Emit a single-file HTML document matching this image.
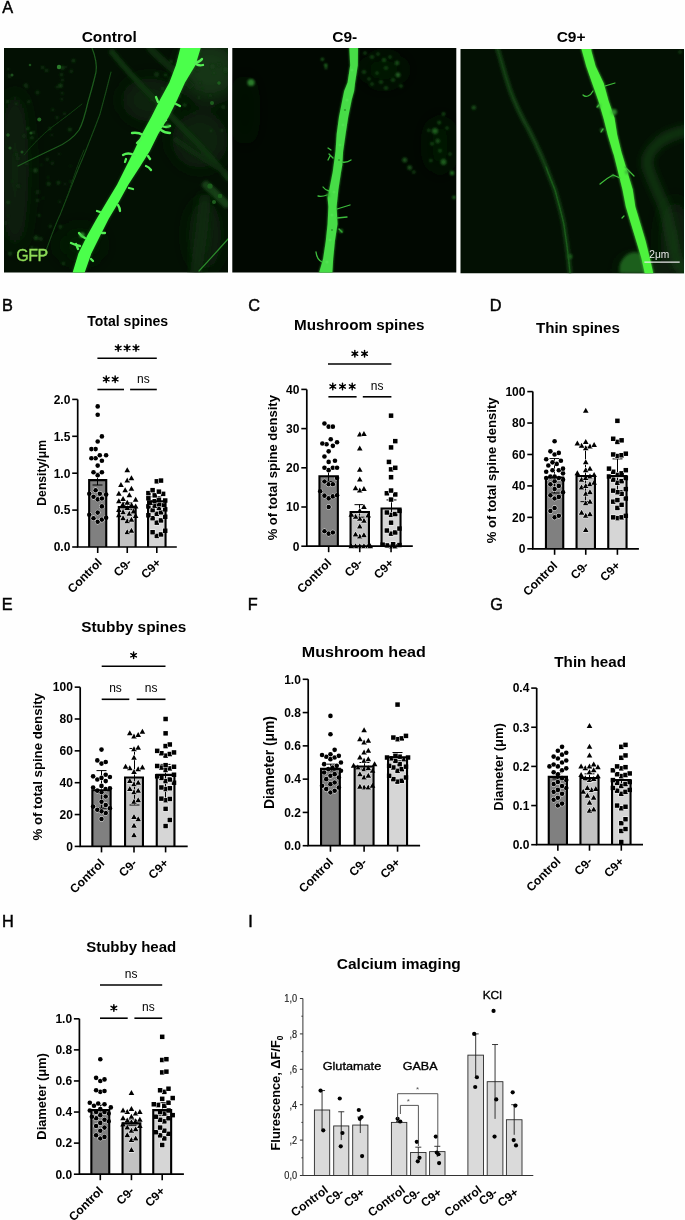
<!DOCTYPE html><html><head><meta charset="utf-8"><style>html,body{margin:0;padding:0;background:#fff;width:685px;height:1220px;overflow:hidden}svg{display:block;will-change:transform}</style></head><body>
<svg width="685" height="1220" viewBox="0 0 685 1220" font-family='"Liberation Sans", sans-serif'>
<rect width="685" height="1220" fill="#fefefe"/>
<defs>
<filter id="b05" x="-20%" y="-20%" width="140%" height="140%"><feGaussianBlur stdDeviation="0.45"/></filter>
<filter id="b1" x="-20%" y="-20%" width="140%" height="140%"><feGaussianBlur stdDeviation="0.8"/></filter>
<filter id="b2" x="-60%" y="-60%" width="220%" height="220%"><feGaussianBlur stdDeviation="1.6"/></filter>
<filter id="b4" x="-100%" y="-100%" width="300%" height="300%"><feGaussianBlur stdDeviation="4"/></filter>
<filter id="b8" x="-150%" y="-150%" width="400%" height="400%"><feGaussianBlur stdDeviation="9"/></filter>
<clipPath id="c1"><rect x="4" y="48" width="224" height="224.5"/></clipPath>
<clipPath id="c2"><rect x="232.3" y="48" width="224" height="224.5"/></clipPath>
<clipPath id="c3"><rect x="460.5" y="49" width="223.5" height="224.3"/></clipPath>
</defs>
<g clip-path="url(#c1)"><rect x="4" y="48" width="224" height="225" fill="#031003"/>
<g filter="url(#b8)"><ellipse cx="210" cy="70" rx="30" ry="30" fill="#123612"/><ellipse cx="200" cy="140" rx="28" ry="28" fill="#0a240a"/><ellipse cx="15" cy="170" rx="14" ry="80" fill="#082008"/><ellipse cx="150" cy="100" rx="28" ry="22" fill="#092209"/><ellipse cx="205" cy="235" rx="16" ry="35" fill="#0a240a"/><ellipse cx="80" cy="245" rx="22" ry="18" fill="#061a06"/></g>
<g filter="url(#b1)"><circle cx="26.7" cy="86.7" r="1.8" fill="#0c2c0c"/><circle cx="61.5" cy="74.8" r="1.7" fill="#103610"/><circle cx="6.6" cy="146.1" r="0.9" fill="#0c2c0c"/><circle cx="42.6" cy="67.4" r="1.7" fill="#103610"/><circle cx="48.1" cy="177.4" r="0.9" fill="#134013"/><circle cx="7.5" cy="101.4" r="1.7" fill="#103610"/><circle cx="24.3" cy="85.3" r="1.0" fill="#0e300e"/><circle cx="43.2" cy="198.2" r="1.0" fill="#103610"/><circle cx="30.1" cy="170.0" r="0.9" fill="#0c2c0c"/><circle cx="47.3" cy="159.2" r="1.7" fill="#0e300e"/><circle cx="36.6" cy="248.9" r="1.4" fill="#103610"/><circle cx="59.6" cy="201.8" r="1.2" fill="#0e300e"/><circle cx="40.8" cy="238.8" r="2.0" fill="#0e300e"/><circle cx="46.6" cy="70.4" r="1.6" fill="#103610"/><circle cx="57.0" cy="86.9" r="1.6" fill="#0c2c0c"/><circle cx="71.3" cy="71.3" r="1.7" fill="#0e300e"/><circle cx="27.8" cy="128.5" r="1.6" fill="#134013"/><circle cx="8.8" cy="74.7" r="1.2" fill="#0c2c0c"/><circle cx="8.2" cy="202.3" r="1.8" fill="#134013"/><circle cx="23.9" cy="136.0" r="1.9" fill="#0c2c0c"/><circle cx="69.8" cy="129.6" r="1.8" fill="#134013"/><circle cx="8.1" cy="216.3" r="1.0" fill="#103610"/><circle cx="31.9" cy="247.5" r="1.6" fill="#103610"/><circle cx="35.4" cy="170.4" r="2.2" fill="#134013"/><circle cx="64.5" cy="113.5" r="1.5" fill="#0e300e"/><circle cx="51.8" cy="134.9" r="1.2" fill="#0c2c0c"/><circle cx="16.3" cy="103.7" r="1.2" fill="#134013"/><circle cx="62.2" cy="93.3" r="1.3" fill="#103610"/><circle cx="33.3" cy="132.5" r="1.7" fill="#103610"/><circle cx="52.3" cy="163.3" r="1.8" fill="#0c2c0c"/><circle cx="36.0" cy="237.9" r="2.3" fill="#134013"/><circle cx="31.9" cy="137.8" r="1.6" fill="#134013"/><circle cx="8.4" cy="69.1" r="1.1" fill="#103610"/><circle cx="11.7" cy="181.2" r="1.0" fill="#103610"/><circle cx="41.6" cy="254.3" r="1.8" fill="#0c2c0c"/><circle cx="65.2" cy="184.0" r="1.0" fill="#0e300e"/><circle cx="70.9" cy="181.5" r="1.6" fill="#0c2c0c"/><circle cx="63.4" cy="263.6" r="1.5" fill="#134013"/><circle cx="25.8" cy="85.3" r="2.0" fill="#0e300e"/><circle cx="37.5" cy="200.3" r="1.6" fill="#103610"/><circle cx="70.6" cy="165.9" r="1.0" fill="#0c2c0c"/><circle cx="57.1" cy="117.6" r="1.8" fill="#0c2c0c"/><circle cx="52.7" cy="109.8" r="1.4" fill="#103610"/><circle cx="28.9" cy="101.8" r="1.7" fill="#0e300e"/><circle cx="48.6" cy="183.8" r="2.1" fill="#103610"/><circle cx="60.4" cy="226.8" r="2.0" fill="#103610"/><circle cx="18.0" cy="158.5" r="2.0" fill="#0c2c0c"/><circle cx="59.3" cy="154.2" r="1.1" fill="#0e300e"/><circle cx="35.3" cy="251.8" r="2.4" fill="#0e300e"/><circle cx="9.6" cy="76.5" r="1.6" fill="#0e300e"/><circle cx="18.3" cy="186.1" r="2.2" fill="#0c2c0c"/><circle cx="37.6" cy="192.1" r="2.1" fill="#0c2c0c"/><circle cx="62.4" cy="80.2" r="1.4" fill="#103610"/><circle cx="37.5" cy="92.5" r="2.1" fill="#0e300e"/><circle cx="10.1" cy="253.7" r="2.0" fill="#134013"/><circle cx="32.1" cy="253.8" r="2.0" fill="#103610"/><circle cx="73.5" cy="60.8" r="1.7" fill="#134013"/><circle cx="60.5" cy="85.7" r="2.1" fill="#134013"/><circle cx="50.0" cy="128.6" r="1.7" fill="#103610"/><circle cx="5.5" cy="222.9" r="2.0" fill="#0c2c0c"/><circle cx="40.9" cy="251.1" r="1.5" fill="#103610"/><circle cx="61.8" cy="99.3" r="1.2" fill="#0e300e"/><circle cx="39.1" cy="215.4" r="1.3" fill="#134013"/><circle cx="62.4" cy="67.8" r="2.0" fill="#134013"/><circle cx="50.4" cy="226.2" r="1.6" fill="#103610"/><circle cx="41.2" cy="164.9" r="0.8" fill="#134013"/><circle cx="58.4" cy="182.8" r="2.0" fill="#103610"/><circle cx="16.1" cy="154.4" r="2.0" fill="#0c2c0c"/><circle cx="26.8" cy="163.9" r="1.7" fill="#0c2c0c"/><circle cx="65.8" cy="66.9" r="1.1" fill="#0c2c0c"/><circle cx="210.2" cy="95.7" r="1.8" fill="#0f330f"/><circle cx="184.6" cy="105.1" r="1.7" fill="#154515"/><circle cx="165.6" cy="74.9" r="1.7" fill="#123a12"/><circle cx="189.6" cy="72.3" r="1.7" fill="#123a12"/><circle cx="222.0" cy="130.3" r="1.2" fill="#123a12"/><circle cx="160.7" cy="60.9" r="1.6" fill="#0f330f"/><circle cx="202.4" cy="88.6" r="1.2" fill="#123a12"/><circle cx="211.1" cy="130.7" r="1.1" fill="#154515"/><circle cx="200.2" cy="83.0" r="1.3" fill="#0f330f"/><circle cx="225.5" cy="69.8" r="2.5" fill="#123a12"/><circle cx="219.0" cy="64.7" r="2.0" fill="#0f330f"/><circle cx="162.6" cy="88.8" r="1.7" fill="#123a12"/><circle cx="182.9" cy="82.1" r="1.0" fill="#123a12"/><circle cx="151.5" cy="99.9" r="1.6" fill="#0f330f"/><circle cx="180.0" cy="96.6" r="1.3" fill="#0f330f"/><circle cx="158.8" cy="132.7" r="1.2" fill="#0f330f"/><circle cx="156.6" cy="74.5" r="2.4" fill="#0f330f"/><circle cx="171.1" cy="61.7" r="1.6" fill="#154515"/><circle cx="213.9" cy="73.3" r="1.1" fill="#154515"/><circle cx="194.5" cy="113.0" r="1.0" fill="#0f330f"/><circle cx="212.4" cy="66.5" r="2.4" fill="#123a12"/><circle cx="223.2" cy="107.1" r="2.2" fill="#0f330f"/><circle cx="197.4" cy="70.0" r="1.3" fill="#0f330f"/><circle cx="185.4" cy="80.5" r="1.8" fill="#123a12"/><circle cx="198.5" cy="53.9" r="2.1" fill="#0f330f"/><circle cx="225.6" cy="73.6" r="1.1" fill="#123a12"/><circle cx="199.0" cy="97.8" r="1.2" fill="#123a12"/><circle cx="189.0" cy="66.0" r="1.4" fill="#0f330f"/><circle cx="227.6" cy="53.3" r="0.8" fill="#154515"/><circle cx="193.0" cy="67.1" r="1.7" fill="#123a12"/></g>
<g fill="none" stroke-linecap="round" filter="url(#b2)"><path d="M112 52 C130 75 150 95 170 115 C190 135 210 155 228 178" stroke="#0f300f" stroke-width="6"/><path d="M176 140 C190 150 205 160 225 172" stroke="#0e2c0e" stroke-width="5"/><path d="M206 185 C214 192 220 198 226 204" stroke="#124012" stroke-width="8"/><path d="M150 48 C160 60 175 70 190 85" stroke="#0e2c0e" stroke-width="7"/></g>
<g fill="none" stroke-linecap="round" filter="url(#b4)"><path d="M205 200 C203 220 200 245 196 272" stroke="#0c2a0c" stroke-width="12"/></g>
<g fill="none" stroke-linecap="round" filter="url(#b05)"><path d="M92 48 C96 58 97 65 96 72 C93 85 90 95 88 102 C85 115 82 125 79 130 C72 140 62 145 55 148 C40 155 30 160 18 166" stroke="#1d5c1d" stroke-width="1.2"/><path d="M111 72 C107 88 103 103 100 114 C96 125 92 135 88 145 C85 153 82 160 79 167 C72 185 66 200 60 215 C55 225 50 240 44 256" stroke="#164a16" stroke-width="1.1"/><path d="M82 104 C72 112 62 120 52 127 C42 135 32 145 24 155" stroke="#123e12" stroke-width="1"/><path d="M84 150 C75 170 70 190 66 200" stroke="#123e12" stroke-width="0.9"/><path d="M228 239 C220 248 212 257 199 271" stroke="#2b8a2b" stroke-width="1.2"/></g>
<g filter="url(#b05)"><circle cx="59" cy="67" r="2.2" fill="#2a7a2a"/><circle cx="39.3" cy="119.5" r="2" fill="#236a23"/><circle cx="12" cy="75" r="1.5" fill="#1a4f1a"/><circle cx="30" cy="65" r="1.3" fill="#1a4f1a"/><circle cx="8" cy="135" r="1.8" fill="#1c521c"/><circle cx="31" cy="133" r="1.6" fill="#1a4f1a"/><circle cx="10" cy="148" r="1.6" fill="#1a4f1a"/><circle cx="22" cy="152" r="1.5" fill="#1a4f1a"/><circle cx="210" cy="186" r="2.6" fill="#1f5f1f"/><circle cx="220" cy="196" r="2.3" fill="#1f5f1f"/><circle cx="214" cy="202" r="2" fill="#1f5f1f"/><circle cx="212" cy="103" r="2" fill="#1f5f1f"/><circle cx="219" cy="83" r="1.8" fill="#1f5f1f"/></g>
<path d="M180.6 47 L176 65 L169.4 82.5 L160 99.7 L151.3 116.9 L142 134 L134 151 L125.8 167.2 L117.2 184.5 L106.8 201.7 L96.5 218.9 L87 236.1 L78.4 253.4 L72.5 273 L84.5 273 L91.3 253.4 L100 236.1 L108.6 218.9 L118.9 201.7 L128.4 184.5 L139.6 167.2 L149.8 151 L158.2 134 L168.6 116.9 L177.2 99.7 L185 82.5 L195.5 65 L201 47Z" fill="#2a8a2a" opacity="0.6" filter="url(#b2)"/>
<path d="M180.6 47 L176 65 L169.4 82.5 L160 99.7 L151.3 116.9 L142 134 L134 151 L125.8 167.2 L117.2 184.5 L106.8 201.7 L96.5 218.9 L87 236.1 L78.4 253.4 L72.5 273 L84.5 273 L91.3 253.4 L100 236.1 L108.6 218.9 L118.9 201.7 L128.4 184.5 L139.6 167.2 L149.8 151 L158.2 134 L168.6 116.9 L177.2 99.7 L185 82.5 L195.5 65 L201 47Z" fill="#4cff4c" filter="url(#b05)"/>
<g fill="none" stroke="#55f055" stroke-width="2.3" stroke-linecap="round" filter="url(#b05)"><path d="M195 63 q5 -1 7 -4"/><path d="M196 64 q3 2 7 1"/><path d="M158 102 l-2 -5"/><path d="M176 104 l4 2"/><path d="M162 126 q4 2 8 0"/><path d="M161 130 q4 3 9 3"/><path d="M163 122 l3 -2"/><path d="M143 135 q-5 -3 -11 -2"/><path d="M141 139 l-4 4"/><path d="M134 155 q-6 -3 -11 0"/><path d="M126 159 l-1 3"/><path d="M148 156 l2 3"/><path d="M146 166 q3 1 5 4"/><path d="M129 188 l4 1"/><path d="M118 205 q2 3 2 6"/><path d="M100 212 l-3 -1"/><path d="M102 233 l3 0"/><path d="M85 238 q-4 -2 -6 -5"/><path d="M80 246 q-5 -1 -9 -3"/><path d="M78 249 l-2 -5"/><path d="M91 259 l2 2"/></g>
<g fill="#3fb83f" opacity="0.8" filter="url(#b1)"><circle cx="82" cy="235" r="2.6"/><circle cx="168" cy="126" r="2"/></g>
<text x="16.2" y="260.8" font-size="16" letter-spacing="-0.4" fill="#8edc58" stroke="#8edc58" stroke-width="0.35">GFP</text>
</g>
<g clip-path="url(#c2)"><rect x="232" y="48" width="225" height="225" fill="#010801"/>
<g filter="url(#b8)"><ellipse cx="384" cy="70" rx="22" ry="16" fill="#061606"/><ellipse cx="440" cy="145" rx="14" ry="28" fill="#061606"/><ellipse cx="245" cy="110" rx="10" ry="35" fill="#051205"/></g>
<g filter="url(#b1)" fill="#1a501a"><circle cx="251" cy="82.5" r="3.6" fill="#2a7a2a"/><circle cx="322.4" cy="59.2" r="1.2" fill="#2c8a2c"/><circle cx="325.8" cy="65.2" r="1.4" fill="#2c8a2c"/><circle cx="326" cy="68" r="1" fill="#2c8a2c"/><circle cx="365" cy="53" r="1.6"/><circle cx="372" cy="57" r="1.8"/><circle cx="378" cy="54" r="1.5"/><circle cx="384" cy="60" r="2"/><circle cx="390" cy="57" r="1.6"/><circle cx="397" cy="63" r="2.2"/><circle cx="386" cy="68" r="1.8"/><circle cx="377" cy="73" r="1.6"/><circle cx="364" cy="72" r="1.8"/><circle cx="398" cy="75" r="2.4" fill="#215f21"/><circle cx="393" cy="80" r="1.8"/><circle cx="381" cy="82" r="1.8"/><circle cx="372" cy="84" r="1.6"/><circle cx="386" cy="88" r="1.8"/><circle cx="401" cy="86" r="1.7"/><circle cx="369" cy="79" r="1.4"/><circle cx="435" cy="131" r="3" fill="#1f5c1f"/><circle cx="443.5" cy="162" r="3" fill="#1f5c1f"/><circle cx="404.7" cy="160" r="2.5"/><circle cx="409.6" cy="167.7" r="2.4"/><circle cx="413.8" cy="172" r="1.6"/><circle cx="430.8" cy="160.6" r="1.5"/><circle cx="439.2" cy="122.6" r="1.8"/><circle cx="443.5" cy="114" r="1.8"/><circle cx="437.8" cy="141" r="2.2"/><circle cx="440" cy="150.8" r="1.8"/><circle cx="452" cy="173" r="2.2" fill="#227022"/><circle cx="454" cy="197.3" r="1.6" fill="#227022"/><circle cx="428.7" cy="130.3" r="1.5"/><circle cx="432" cy="143.7" r="1.7"/><circle cx="447" cy="128" r="1.6"/><circle cx="450" cy="154" r="1.5"/></g>
<path d="M349.1 47 L350 65.2 L347.4 82.5 L344 91 L342.2 99.7 L338.8 116.9 L336.5 134.1 L335.3 151.4 L333.5 165 L332.5 172.2 L329.1 189.5 L327.4 198 L328.2 206.7 L327.4 223.9 L325.6 241.1 L323 258.4 L318.8 273 L332.5 273 L333.4 258.4 L335.1 241.1 L337.7 223.9 L336.8 206.7 L337.7 198 L338.6 189.5 L341.2 172.2 L342.5 165 L343.3 151.4 L345.8 134.1 L348.4 116.9 L351.9 99.7 L354.3 91 L355.3 82.5 L358 65.2 L358.2 47Z" fill="#2a9a2a" filter="url(#b1)"/>
<path d="M349.3 47 L350.2 65.2 L347.6 82.5 L344.2 91 L342.4 99.7 L339 116.9 L336.7 134.1 L335.5 151.4 L333.7 165 L332.7 172.2 L329.3 189.5 L327.6 198 L328.4 206.7 L327.6 223.9 L325.8 241.1 L323.2 258.4 L319 273 L332.3 273 L333.2 258.4 L334.9 241.1 L337.5 223.9 L336.6 206.7 L337.5 198 L338.4 189.5 L341 172.2 L342.3 165 L343.1 151.4 L345.6 134.1 L348.2 116.9 L351.7 99.7 L354.1 91 L355.1 82.5 L357.8 65.2 L358 47Z" fill="#46dc46" filter="url(#b05)"/>
<g fill="#5ae85a" opacity="0.55" filter="url(#b05)"><circle cx="352" cy="70" r="1.5"/><circle cx="347" cy="100" r="1.6"/><circle cx="343" cy="125" r="1.4"/><circle cx="340" cy="145" r="1.5"/><circle cx="334" cy="192" r="1.5"/><circle cx="332" cy="215" r="1.6"/><circle cx="330" cy="240" r="1.5"/><circle cx="327" cy="262" r="1.6"/></g>
<g fill="#1c7a1c" opacity="0.6" filter="url(#b05)"><circle cx="345" cy="110" r="1.1"/><circle cx="339" cy="160" r="1"/><circle cx="332" cy="230" r="1"/></g>
<g fill="none" stroke="#3cbc3c" stroke-width="1.3" stroke-linecap="round" filter="url(#b05)"><path d="M333 158 l-4 -4 M330 156 l-2 4"/><path d="M342 162 q5 1 9 -2"/><path d="M329 191 q-4 -1 -6 -4 M327 195 q-5 2 -9 1"/><path d="M337 209 l13 -4"/><path d="M337 218 l10 -1"/><path d="M339 229 l3 3"/><path d="M322 262 q-5 -2 -6 -10"/><path d="M331 150 l-3 -2"/></g>
<g fill="#2a9a2a" opacity="0.8" filter="url(#b1)"><circle cx="341" cy="231" r="2"/><circle cx="328" cy="195" r="1.8"/></g>
</g>
<g clip-path="url(#c3)"><rect x="460" y="49" width="225" height="225" fill="#031003"/>
<g filter="url(#b8)"><ellipse cx="675" cy="240" rx="14" ry="40" fill="#0a240a"/><ellipse cx="640" cy="270" rx="20" ry="10" fill="#0e300e"/></g>
<g fill="none" stroke-linecap="round"><path d="M497 47 C501 60 505 75 510 90 C516 106 522 118 529 130 C535 142 540 152 546 167 C550 178 553 185 555 190 C559 205 562 215 564 225 C566 240 568 250 570 273" stroke="#134513" stroke-width="4" filter="url(#b2)"/><path d="M546 167 C550 178 553 185 555 190 C559 205 562 215 564 225 C566 240 568 250 570 273" stroke="#1a5a1a" stroke-width="1.3" filter="url(#b05)"/><path d="M686 131 C675 133 665 136 656 145 C648 153 645 160 648 168 C652 180 658 192 664 206 C668 220 671 235 674 250 C676 260 680 268 684 273" stroke="#133f13" stroke-width="8" filter="url(#b4)"/></g>
<g filter="url(#b1)"><circle cx="473.8" cy="107.6" r="2.2" fill="#1a521a"/><circle cx="570" cy="256.6" r="2.5" fill="#1d5a1d"/><circle cx="680" cy="52" r="1.5" fill="#1a4a1a"/></g>
<g filter="url(#b2)"><path d="M620 273 C618 265 622 258 628 254 C634 251 640 252 643 256 L650 273 Z" fill="#1c5e1c"/></g>
<path d="M580.5 47 L581.5 50.7 L585.8 66.2 L591.8 83.5 L597.9 100.7 L603 117.9 L607.3 135.1 L612.5 152.4 L613.4 155 L617.7 172.2 L622 189.5 L625.4 206.7 L630.6 223.9 L635.8 241.1 L641 258.4 L644.4 274 L653.9 274 L650.4 258.4 L646.1 241.1 L641 223.9 L635.8 206.7 L633.2 189.5 L628 172.2 L622.8 155 L622 152.4 L617.7 135.1 L615 117.9 L609 100.7 L604.3 83.5 L596.1 66.2 L591.8 50.7 L591.8 47Z" fill="#38b030" filter="url(#b1)"/>
<path d="M581 47 L582 50.7 L586.3 66.2 L592.3 83.5 L598.4 100.7 L603.5 117.9 L607.8 135.1 L613 152.4 L613.9 155 L618.2 172.2 L622.5 189.5 L625.9 206.7 L631.1 223.9 L636.3 241.1 L641.5 258.4 L644.9 274 L653.4 274 L649.9 258.4 L645.6 241.1 L640.5 223.9 L635.3 206.7 L632.7 189.5 L627.5 172.2 L622.3 155 L621.5 152.4 L617.2 135.1 L614.5 117.9 L608.5 100.7 L603.8 83.5 L595.6 66.2 L591.3 50.7 L591.3 47Z" fill="#4ef23c" filter="url(#b05)"/>
<g fill="none" stroke="#3fbf3a" stroke-width="1.2" stroke-linecap="round" filter="url(#b05)"><path d="M605 86 l10 -3"/><path d="M593 91 q-2 4 -5 5 q-3 1 -5 -1"/><path d="M599 105 l-2 2"/><path d="M603 129 l-2 3"/><path d="M625 167 q4 4 9 9"/><path d="M620 178 l-7 -3 q-6 3 -13 9"/><path d="M624 216 l-2 2"/></g>
<g fill="#3aa83a" opacity="0.75" filter="url(#b1)"><circle cx="614" cy="112" r="3"/><circle cx="599" cy="106" r="2"/><circle cx="602" cy="130" r="1.8"/><circle cx="627" cy="172" r="2.2"/><circle cx="613" cy="176" r="1.6"/></g>
<text x="649.3" y="258.3" font-size="10.2" fill="#e8e8e8">2μm</text>
<path d="M644.4 262.1H679.7" stroke="#e8e8e8" stroke-width="1.2"/>
</g>
<text x="2.2" y="12.9" font-size="16.3" stroke="#000" stroke-width="0.45">A</text>
<text x="109.2" y="42.4" text-anchor="middle" font-size="15.5" font-weight="bold">Control</text>
<text x="344.7" y="42.4" text-anchor="middle" font-size="15.5" font-weight="bold">C9-</text>
<text x="571.1" y="42.4" text-anchor="middle" font-size="15.5" font-weight="bold">C9+</text>
<rect x="89" y="480" width="17.4" height="67" fill="#808080"/>
<rect x="118.7" y="506.94" width="17.1" height="40.06" fill="#c2c2c2"/>
<rect x="147.9" y="501.04" width="17.8" height="45.96" fill="#d6d6d6"/>
<path d="M97.5 485.01V473.2M92.5 473.2H102.5M92.5 485.01H102.5" stroke="#000" stroke-width="1.0" fill="none"/>
<path d="M127.5 509.36V502.72M122.5 502.72H132.5M122.5 509.36H132.5" stroke="#000" stroke-width="1.0" fill="none"/>
<path d="M156.5 503.46V496.82M151.5 496.82H161.5M151.5 503.46H161.5" stroke="#000" stroke-width="1.0" fill="none"/>
<g fill="#000" stroke="#fff" stroke-width="1.0" paint-order="stroke">
<circle cx="97.7" cy="521.7" r="2.3"/>
<circle cx="101.9" cy="519.6" r="2.3"/>
<circle cx="93.5" cy="518.2" r="2.3"/>
<circle cx="106.1" cy="517.8" r="2.3"/>
<circle cx="89.3" cy="514.7" r="2.3"/>
<circle cx="97.7" cy="512.6" r="2.3"/>
<circle cx="101.9" cy="506.4" r="2.3"/>
<circle cx="97.7" cy="499.4" r="2.3"/>
<circle cx="101.9" cy="498.5" r="2.3"/>
<circle cx="93.5" cy="496.8" r="2.3"/>
<circle cx="106.1" cy="494.6" r="2.3"/>
<circle cx="89.3" cy="493.7" r="2.3"/>
<circle cx="99.8" cy="493.7" r="2.3"/>
<circle cx="95.6" cy="490.2" r="2.3"/>
<circle cx="97.7" cy="475.3" r="2.3"/>
<circle cx="101.9" cy="472.2" r="2.3"/>
<circle cx="93.5" cy="472.2" r="2.3"/>
<circle cx="97.7" cy="465.6" r="2.3"/>
<circle cx="101.9" cy="460.7" r="2.3"/>
<circle cx="95.6" cy="458.3" r="2.3"/>
<circle cx="91.4" cy="458.3" r="2.3"/>
<circle cx="106.1" cy="455.3" r="2.3"/>
<circle cx="99.8" cy="455.3" r="2.3"/>
<circle cx="95.6" cy="449.1" r="2.3"/>
<circle cx="91.4" cy="449.1" r="2.3"/>
<circle cx="97.7" cy="441.5" r="2.3"/>
<circle cx="101.9" cy="436.4" r="2.3"/>
<circle cx="97.7" cy="414.7" r="2.3"/>
<circle cx="97.7" cy="406.4" r="2.3"/>
<path d="M127.25 529.24L130.05 534.24L124.45 534.24Z"/>
<path d="M131.45 527.76L134.25 532.76L128.65 532.76Z"/>
<path d="M127.25 518.17L130.05 523.17L124.45 523.17Z"/>
<path d="M131.45 516.69L134.25 521.69L128.65 521.69Z"/>
<path d="M123.05 515.22L125.85 520.22L120.25 520.22Z"/>
<path d="M135.65 513L138.45 518L132.85 518Z"/>
<path d="M118.85 512.27L121.65 517.27L116.05 517.27Z"/>
<path d="M129.35 510.79L132.15 515.79L126.55 515.79Z"/>
<path d="M123.05 509.31L125.85 514.31L120.25 514.31Z"/>
<path d="M133.55 508.58L136.35 513.58L130.75 513.58Z"/>
<path d="M118.85 507.1L121.65 512.1L116.05 512.1Z"/>
<path d="M127.25 504.89L130.05 509.89L124.45 509.89Z"/>
<path d="M135.65 503.41L138.45 508.41L132.85 508.41Z"/>
<path d="M131.45 501.93L134.25 506.93L128.65 506.93Z"/>
<path d="M123.05 501.2L125.85 506.2L120.25 506.2Z"/>
<path d="M127.25 499.72L130.05 504.72L124.45 504.72Z"/>
<path d="M118.85 498.24L121.65 503.24L116.05 503.24Z"/>
<path d="M135.65 496.77L138.45 501.77L132.85 501.77Z"/>
<path d="M123.05 496.03L125.85 501.03L120.25 501.03Z"/>
<path d="M129.35 492.34L132.15 497.34L126.55 497.34Z"/>
<path d="M118.85 490.86L121.65 495.86L116.05 495.86Z"/>
<path d="M125.15 487.17L127.95 492.17L122.35 492.17Z"/>
<path d="M131.45 485.7L134.25 490.7L128.65 490.7Z"/>
<path d="M120.95 482.01L123.75 487.01L118.15 487.01Z"/>
<path d="M127.25 477.58L130.05 482.58L124.45 482.58Z"/>
<path d="M131.45 475.37L134.25 480.37L128.65 480.37Z"/>
<path d="M127.25 467.25L130.05 472.25L124.45 472.25Z"/>
<rect x="154.55" y="533.68" width="4.5" height="4.5"/>
<rect x="158.75" y="532.2" width="4.5" height="4.5"/>
<rect x="150.35" y="529.99" width="4.5" height="4.5"/>
<rect x="162.95" y="528.51" width="4.5" height="4.5"/>
<rect x="154.55" y="520.4" width="4.5" height="4.5"/>
<rect x="158.75" y="518.18" width="4.5" height="4.5"/>
<rect x="150.35" y="515.97" width="4.5" height="4.5"/>
<rect x="162.95" y="514.49" width="4.5" height="4.5"/>
<rect x="146.15" y="513.02" width="4.5" height="4.5"/>
<rect x="154.55" y="511.54" width="4.5" height="4.5"/>
<rect x="158.75" y="510.06" width="4.5" height="4.5"/>
<rect x="150.35" y="507.85" width="4.5" height="4.5"/>
<rect x="162.95" y="507.11" width="4.5" height="4.5"/>
<rect x="156.65" y="505.64" width="4.5" height="4.5"/>
<rect x="146.15" y="504.16" width="4.5" height="4.5"/>
<rect x="152.45" y="503.42" width="4.5" height="4.5"/>
<rect x="160.85" y="502.68" width="4.5" height="4.5"/>
<rect x="156.65" y="501.95" width="4.5" height="4.5"/>
<rect x="148.25" y="500.47" width="4.5" height="4.5"/>
<rect x="152.45" y="498.99" width="4.5" height="4.5"/>
<rect x="162.95" y="498.26" width="4.5" height="4.5"/>
<rect x="156.65" y="497.52" width="4.5" height="4.5"/>
<rect x="146.15" y="496.04" width="4.5" height="4.5"/>
<rect x="152.45" y="493.09" width="4.5" height="4.5"/>
<rect x="160.85" y="491.61" width="4.5" height="4.5"/>
<rect x="146.15" y="490.88" width="4.5" height="4.5"/>
<rect x="156.65" y="489.4" width="4.5" height="4.5"/>
<rect x="150.35" y="487.92" width="4.5" height="4.5"/>
<rect x="154.55" y="479.07" width="4.5" height="4.5"/>
<rect x="158.75" y="478.33" width="4.5" height="4.5"/>
</g>
<path d="M89.15 547V480.15H106.25V547" fill="none" stroke="#000" stroke-width="2.1"/>
<path d="M118.85 547V507.09H135.65V547" fill="none" stroke="#000" stroke-width="2.1"/>
<path d="M148.05 547V501.19H165.55V547" fill="none" stroke="#000" stroke-width="2.1"/>
<path d="M77.7 399.4V547H176.8" fill="none" stroke="#000" stroke-width="1.7"/>
<path d="M72.2 547H77.7" stroke="#000" stroke-width="1.6"/>
<text x="70.38" y="551.3" text-anchor="end" font-size="12" font-weight="bold">0.0</text>
<path d="M72.2 510.1H77.7" stroke="#000" stroke-width="1.6"/>
<text x="70.38" y="514.4" text-anchor="end" font-size="12" font-weight="bold">0.5</text>
<path d="M72.2 473.2H77.7" stroke="#000" stroke-width="1.6"/>
<text x="70.38" y="477.5" text-anchor="end" font-size="12" font-weight="bold">1.0</text>
<path d="M72.2 436.3H77.7" stroke="#000" stroke-width="1.6"/>
<text x="70.38" y="440.6" text-anchor="end" font-size="12" font-weight="bold">1.5</text>
<path d="M72.2 399.4H77.7" stroke="#000" stroke-width="1.6"/>
<text x="70.38" y="403.7" text-anchor="end" font-size="12" font-weight="bold">2.0</text>
<path d="M97.7 547V553" stroke="#000" stroke-width="1.6"/>
<path d="M127.25 547V553" stroke="#000" stroke-width="1.6"/>
<path d="M156.8 547V553" stroke="#000" stroke-width="1.6"/>
<text transform="translate(102.7 563.5) rotate(-45)" text-anchor="end" font-size="12" font-weight="bold">Control</text>
<text transform="translate(132.25 563.5) rotate(-45)" text-anchor="end" font-size="12" font-weight="bold">C9-</text>
<text transform="translate(161.8 563.5) rotate(-45)" text-anchor="end" font-size="12" font-weight="bold">C9+</text>
<text transform="translate(46.4 505.69) rotate(-90)" font-size="12.19" font-weight="bold" textLength="65.74" lengthAdjust="spacingAndGlyphs">Density/μm</text>
<text x="87.16" y="325.8" font-size="14" font-weight="bold" textLength="81.01" lengthAdjust="spacingAndGlyphs">Total spines</text>
<text x="2" y="310.8" font-size="16.3" stroke="#000" stroke-width="0.45">B</text>
<path d="M97.4 358.2H156.8" stroke="#000" stroke-width="1.6"/>
<path d="M118.2 344.65L118.2 351.15M115.39 346.27L121.01 349.52M121.01 346.27L115.39 349.52" stroke="#000" stroke-width="1.45" stroke-linecap="round"/><circle cx="118.2" cy="347.9" r="1.55"/>
<path d="M127.1 344.65L127.1 351.15M124.29 346.27L129.91 349.52M129.91 346.27L124.29 349.52" stroke="#000" stroke-width="1.45" stroke-linecap="round"/><circle cx="127.1" cy="347.9" r="1.55"/>
<path d="M136 344.65L136 351.15M133.19 346.27L138.81 349.52M138.81 346.27L133.19 349.52" stroke="#000" stroke-width="1.45" stroke-linecap="round"/><circle cx="136" cy="347.9" r="1.55"/>
<path d="M97.4 389.5H124" stroke="#000" stroke-width="1.6"/>
<path d="M106.25 375.95L106.25 382.45M103.44 377.57L109.06 380.82M109.06 377.57L103.44 380.82" stroke="#000" stroke-width="1.45" stroke-linecap="round"/><circle cx="106.25" cy="379.2" r="1.55"/>
<path d="M115.15 375.95L115.15 382.45M112.34 377.57L117.96 380.82M117.96 377.57L112.34 380.82" stroke="#000" stroke-width="1.45" stroke-linecap="round"/><circle cx="115.15" cy="379.2" r="1.55"/>
<path d="M130.1 389.5H156.8" stroke="#000" stroke-width="1.6"/>
<text x="143.45" y="382.5" text-anchor="middle" font-size="12">ns</text>
<rect x="319.3" y="476.15" width="18.7" height="70.05" fill="#808080"/>
<rect x="350.4" y="511.82" width="18.7" height="34.38" fill="#c2c2c2"/>
<rect x="381.4" y="508.29" width="19.3" height="37.91" fill="#d6d6d6"/>
<path d="M328.5 481.52V468.98M323.5 468.98H333.5M323.5 481.52H333.5" stroke="#000" stroke-width="1.0" fill="none"/>
<path d="M359.5 517.19V504.65M354.5 504.65H364.5M354.5 517.19H364.5" stroke="#000" stroke-width="1.0" fill="none"/>
<path d="M391.5 514.06V499.94M386.5 499.94H396.5M386.5 514.06H396.5" stroke="#000" stroke-width="1.0" fill="none"/>
<g fill="#000" stroke="#fff" stroke-width="1.0" paint-order="stroke">
<circle cx="328.65" cy="533.66" r="2.3"/>
<circle cx="332.85" cy="532.48" r="2.3"/>
<circle cx="324.45" cy="531.3" r="2.3"/>
<circle cx="328.65" cy="507" r="2.3"/>
<circle cx="328.65" cy="498.38" r="2.3"/>
<circle cx="332.85" cy="496.42" r="2.3"/>
<circle cx="324.45" cy="495.63" r="2.3"/>
<circle cx="337.05" cy="495.24" r="2.3"/>
<circle cx="320.25" cy="491.32" r="2.3"/>
<circle cx="328.65" cy="484.26" r="2.3"/>
<circle cx="332.85" cy="484.26" r="2.3"/>
<circle cx="324.45" cy="481.52" r="2.3"/>
<circle cx="337.05" cy="477.99" r="2.3"/>
<circle cx="328.65" cy="470.15" r="2.3"/>
<circle cx="332.85" cy="467.8" r="2.3"/>
<circle cx="324.45" cy="467.8" r="2.3"/>
<circle cx="337.05" cy="467.8" r="2.3"/>
<circle cx="328.65" cy="461.92" r="2.3"/>
<circle cx="334.95" cy="460.74" r="2.3"/>
<circle cx="324.45" cy="456.43" r="2.3"/>
<circle cx="328.65" cy="451.34" r="2.3"/>
<circle cx="332.85" cy="445.85" r="2.3"/>
<circle cx="326.55" cy="444.28" r="2.3"/>
<circle cx="322.35" cy="443.5" r="2.3"/>
<circle cx="337.05" cy="442.32" r="2.3"/>
<circle cx="330.75" cy="439.18" r="2.3"/>
<circle cx="328.65" cy="426.64" r="2.3"/>
<circle cx="332.85" cy="426.64" r="2.3"/>
<circle cx="324.45" cy="423.5" r="2.3"/>
<path d="M359.75 543.2L362.55 548.2L356.95 548.2Z"/>
<path d="M363.95 543.2L366.75 548.2L361.15 548.2Z"/>
<path d="M355.55 543.2L358.35 548.2L352.75 548.2Z"/>
<path d="M368.15 543.2L370.95 548.2L365.35 548.2Z"/>
<path d="M351.35 543.2L354.15 548.2L348.55 548.2Z"/>
<path d="M370.25 543.2L373.05 548.2L367.45 548.2Z"/>
<path d="M359.75 533.4L362.55 538.4L356.95 538.4Z"/>
<path d="M363.95 532.22L366.75 537.22L361.15 537.22Z"/>
<path d="M355.55 531.44L358.35 536.44L352.75 536.44Z"/>
<path d="M359.75 523.6L362.55 528.6L356.95 528.6Z"/>
<path d="M363.95 517.72L366.75 522.72L361.15 522.72Z"/>
<path d="M359.75 515.76L362.55 520.76L356.95 520.76Z"/>
<path d="M355.55 513.8L358.35 518.8L352.75 518.8Z"/>
<path d="M368.15 512.62L370.95 517.62L365.35 517.62Z"/>
<path d="M351.35 511.84L354.15 516.84L348.55 516.84Z"/>
<path d="M359.75 507.92L362.55 512.92L356.95 512.92Z"/>
<path d="M363.95 504L366.75 509L361.15 509Z"/>
<path d="M359.75 487.54L362.55 492.54L356.95 492.54Z"/>
<path d="M363.95 485.97L366.75 490.97L361.15 490.97Z"/>
<path d="M355.55 485.18L358.35 490.18L352.75 490.18Z"/>
<path d="M359.75 476.56L362.55 481.56L356.95 481.56Z"/>
<path d="M359.75 466.76L362.55 471.76L356.95 471.76Z"/>
<path d="M359.75 445.59L362.55 450.59L356.95 450.59Z"/>
<path d="M359.75 431.48L362.55 436.48L356.95 436.48Z"/>
<path d="M363.95 431.09L366.75 436.09L361.15 436.09Z"/>
<rect x="388.8" y="543.95" width="4.5" height="4.5"/>
<rect x="393" y="543.95" width="4.5" height="4.5"/>
<rect x="384.6" y="543.17" width="4.5" height="4.5"/>
<rect x="397.2" y="542.77" width="4.5" height="4.5"/>
<rect x="380.4" y="542.38" width="4.5" height="4.5"/>
<rect x="390.9" y="541.99" width="4.5" height="4.5"/>
<rect x="388.8" y="531.41" width="4.5" height="4.5"/>
<rect x="393" y="530.23" width="4.5" height="4.5"/>
<rect x="384.6" y="528.27" width="4.5" height="4.5"/>
<rect x="397.2" y="526.31" width="4.5" height="4.5"/>
<rect x="388.8" y="520.43" width="4.5" height="4.5"/>
<rect x="388.8" y="512.59" width="4.5" height="4.5"/>
<rect x="393" y="511.81" width="4.5" height="4.5"/>
<rect x="384.6" y="510.24" width="4.5" height="4.5"/>
<rect x="397.2" y="508.67" width="4.5" height="4.5"/>
<rect x="388.8" y="497.3" width="4.5" height="4.5"/>
<rect x="393" y="492.21" width="4.5" height="4.5"/>
<rect x="384.6" y="491.03" width="4.5" height="4.5"/>
<rect x="388.8" y="488.29" width="4.5" height="4.5"/>
<rect x="388.8" y="474.96" width="4.5" height="4.5"/>
<rect x="388.8" y="467.12" width="4.5" height="4.5"/>
<rect x="393" y="465.55" width="4.5" height="4.5"/>
<rect x="386.7" y="459.67" width="4.5" height="4.5"/>
<rect x="388.8" y="445.17" width="4.5" height="4.5"/>
<rect x="393" y="438.89" width="4.5" height="4.5"/>
<rect x="388.8" y="413.41" width="4.5" height="4.5"/>
</g>
<path d="M319.45 546.2V476.3H337.85V546.2" fill="none" stroke="#000" stroke-width="2.1"/>
<path d="M350.55 546.2V511.97H368.95V546.2" fill="none" stroke="#000" stroke-width="2.1"/>
<path d="M381.55 546.2V508.44H400.55V546.2" fill="none" stroke="#000" stroke-width="2.1"/>
<path d="M306.8 389.4V546.2H412.8" fill="none" stroke="#000" stroke-width="1.7"/>
<path d="M301.3 546.2H306.8" stroke="#000" stroke-width="1.6"/>
<text x="299.48" y="550.5" text-anchor="end" font-size="12" font-weight="bold">0</text>
<path d="M301.3 507H306.8" stroke="#000" stroke-width="1.6"/>
<text x="299.48" y="511.3" text-anchor="end" font-size="12" font-weight="bold">10</text>
<path d="M301.3 467.8H306.8" stroke="#000" stroke-width="1.6"/>
<text x="299.48" y="472.1" text-anchor="end" font-size="12" font-weight="bold">20</text>
<path d="M301.3 428.6H306.8" stroke="#000" stroke-width="1.6"/>
<text x="299.48" y="432.9" text-anchor="end" font-size="12" font-weight="bold">30</text>
<path d="M301.3 389.4H306.8" stroke="#000" stroke-width="1.6"/>
<text x="299.48" y="393.7" text-anchor="end" font-size="12" font-weight="bold">40</text>
<path d="M328.65 546.2V552.2" stroke="#000" stroke-width="1.6"/>
<path d="M359.75 546.2V552.2" stroke="#000" stroke-width="1.6"/>
<path d="M391.05 546.2V552.2" stroke="#000" stroke-width="1.6"/>
<text transform="translate(332.15 563.7) rotate(-45)" text-anchor="end" font-size="12" font-weight="bold">Control</text>
<text transform="translate(363.25 563.7) rotate(-45)" text-anchor="end" font-size="12" font-weight="bold">C9-</text>
<text transform="translate(394.55 563.7) rotate(-45)" text-anchor="end" font-size="12" font-weight="bold">C9+</text>
<text transform="translate(276.5 540.33) rotate(-90)" font-size="13" font-weight="bold" textLength="145.23" lengthAdjust="spacingAndGlyphs">% of total spine density</text>
<text x="294.11" y="330.3" font-size="14.8" font-weight="bold" textLength="130.43" lengthAdjust="spacingAndGlyphs">Mushroom spines</text>
<text x="248.28" y="310.7" font-size="16.3" stroke="#000" stroke-width="0.45">C</text>
<path d="M328 364H391.4" stroke="#000" stroke-width="1.6"/>
<path d="M354.85 350.45L354.85 356.95M352.04 352.07L357.66 355.32M357.66 352.07L352.04 355.32" stroke="#000" stroke-width="1.45" stroke-linecap="round"/><circle cx="354.85" cy="353.7" r="1.55"/>
<path d="M364.55 350.45L364.55 356.95M361.74 352.07L367.36 355.32M367.36 352.07L361.74 355.32" stroke="#000" stroke-width="1.45" stroke-linecap="round"/><circle cx="364.55" cy="353.7" r="1.55"/>
<path d="M328.4 396.8H356.6" stroke="#000" stroke-width="1.6"/>
<path d="M332.8 383.25L332.8 389.75M329.99 384.88L335.61 388.12M335.61 384.88L329.99 388.12" stroke="#000" stroke-width="1.45" stroke-linecap="round"/><circle cx="332.8" cy="386.5" r="1.55"/>
<path d="M342.5 383.25L342.5 389.75M339.69 384.88L345.31 388.12M345.31 384.88L339.69 388.12" stroke="#000" stroke-width="1.45" stroke-linecap="round"/><circle cx="342.5" cy="386.5" r="1.55"/>
<path d="M352.2 383.25L352.2 389.75M349.39 384.88L355.01 388.12M355.01 384.88L349.39 388.12" stroke="#000" stroke-width="1.45" stroke-linecap="round"/><circle cx="352.2" cy="386.5" r="1.55"/>
<path d="M362.8 396.8H391.4" stroke="#000" stroke-width="1.6"/>
<text x="377.1" y="389.8" text-anchor="middle" font-size="12">ns</text>
<rect x="545.8" y="477.39" width="17.6" height="71.41" fill="#808080"/>
<rect x="576.4" y="475.82" width="18.7" height="72.98" fill="#c2c2c2"/>
<rect x="608.1" y="475.82" width="18.6" height="72.98" fill="#d6d6d6"/>
<path d="M554.5 492.99V458.57M549.5 458.57H559.5M549.5 492.99H559.5" stroke="#000" stroke-width="1.0" fill="none"/>
<path d="M585.5 501.64V447.25M580.5 447.25H590.5M580.5 501.64H590.5" stroke="#000" stroke-width="1.0" fill="none"/>
<path d="M617.5 490.64V458.88M612.5 458.88H622.5M612.5 490.64H622.5" stroke="#000" stroke-width="1.0" fill="none"/>
<g fill="#000" stroke="#fff" stroke-width="1.0" paint-order="stroke">
<circle cx="554.6" cy="517.36" r="2.3"/>
<circle cx="558.8" cy="515.79" r="2.3"/>
<circle cx="550.4" cy="511.07" r="2.3"/>
<circle cx="554.6" cy="507.93" r="2.3"/>
<circle cx="554.6" cy="498.5" r="2.3"/>
<circle cx="558.8" cy="496.92" r="2.3"/>
<circle cx="550.4" cy="495.35" r="2.3"/>
<circle cx="563" cy="492.21" r="2.3"/>
<circle cx="554.6" cy="489.06" r="2.3"/>
<circle cx="558.8" cy="485.92" r="2.3"/>
<circle cx="550.4" cy="484.35" r="2.3"/>
<circle cx="554.6" cy="481.2" r="2.3"/>
<circle cx="563" cy="479.63" r="2.3"/>
<circle cx="558.8" cy="478.06" r="2.3"/>
<circle cx="546.2" cy="478.06" r="2.3"/>
<circle cx="550.4" cy="476.49" r="2.3"/>
<circle cx="554.6" cy="476.49" r="2.3"/>
<circle cx="563" cy="473.34" r="2.3"/>
<circle cx="546.2" cy="471.77" r="2.3"/>
<circle cx="558.8" cy="470.2" r="2.3"/>
<circle cx="552.5" cy="470.2" r="2.3"/>
<circle cx="563" cy="468.63" r="2.3"/>
<circle cx="548.3" cy="465.48" r="2.3"/>
<circle cx="556.7" cy="463.91" r="2.3"/>
<circle cx="552.5" cy="462.34" r="2.3"/>
<circle cx="560.9" cy="460.77" r="2.3"/>
<circle cx="546.2" cy="459.2" r="2.3"/>
<circle cx="554.6" cy="454.48" r="2.3"/>
<circle cx="558.8" cy="452.91" r="2.3"/>
<circle cx="550.4" cy="451.34" r="2.3"/>
<circle cx="554.6" cy="441.28" r="2.3"/>
<path d="M585.75 526.94L588.55 531.94L582.95 531.94Z"/>
<path d="M585.75 512.79L588.55 517.79L582.95 517.79Z"/>
<path d="M589.95 511.22L592.75 516.22L587.15 516.22Z"/>
<path d="M581.55 509.64L584.35 514.64L578.75 514.64Z"/>
<path d="M585.75 500.21L588.55 505.21L582.95 505.21Z"/>
<path d="M589.95 498.64L592.75 503.64L587.15 503.64Z"/>
<path d="M585.75 490.78L588.55 495.78L582.95 495.78Z"/>
<path d="M589.95 489.21L592.75 494.21L587.15 494.21Z"/>
<path d="M581.55 484.49L584.35 489.49L578.75 489.49Z"/>
<path d="M585.75 482.92L588.55 487.92L582.95 487.92Z"/>
<path d="M589.95 481.35L592.75 486.35L587.15 486.35Z"/>
<path d="M594.15 479.78L596.95 484.78L591.35 484.78Z"/>
<path d="M581.55 476.63L584.35 481.63L578.75 481.63Z"/>
<path d="M585.75 475.06L588.55 480.06L582.95 480.06Z"/>
<path d="M589.95 473.49L592.75 478.49L587.15 478.49Z"/>
<path d="M594.15 471.92L596.95 476.92L591.35 476.92Z"/>
<path d="M577.35 470.34L580.15 475.34L574.55 475.34Z"/>
<path d="M585.75 467.2L588.55 472.2L582.95 472.2Z"/>
<path d="M589.95 465.63L592.75 470.63L587.15 470.63Z"/>
<path d="M585.75 459.34L588.55 464.34L582.95 464.34Z"/>
<path d="M585.75 445.19L588.55 450.19L582.95 450.19Z"/>
<path d="M589.95 443.62L592.75 448.62L587.15 448.62Z"/>
<path d="M581.55 442.83L584.35 447.83L578.75 447.83Z"/>
<path d="M594.15 442.05L596.95 447.05L591.35 447.05Z"/>
<path d="M577.35 440.48L580.15 445.48L574.55 445.48Z"/>
<path d="M585.75 438.9L588.55 443.9L582.95 443.9Z"/>
<path d="M585.75 407.78L588.55 412.78L582.95 412.78Z"/>
<rect x="615.15" y="515.9" width="4.5" height="4.5"/>
<rect x="619.35" y="515.11" width="4.5" height="4.5"/>
<rect x="610.95" y="515.11" width="4.5" height="4.5"/>
<rect x="623.55" y="513.54" width="4.5" height="4.5"/>
<rect x="615.15" y="505.68" width="4.5" height="4.5"/>
<rect x="619.35" y="502.53" width="4.5" height="4.5"/>
<rect x="610.95" y="499.39" width="4.5" height="4.5"/>
<rect x="615.15" y="497.82" width="4.5" height="4.5"/>
<rect x="623.55" y="496.25" width="4.5" height="4.5"/>
<rect x="619.35" y="491.53" width="4.5" height="4.5"/>
<rect x="615.15" y="489.96" width="4.5" height="4.5"/>
<rect x="610.95" y="488.39" width="4.5" height="4.5"/>
<rect x="623.55" y="486.81" width="4.5" height="4.5"/>
<rect x="615.15" y="480.53" width="4.5" height="4.5"/>
<rect x="619.35" y="478.95" width="4.5" height="4.5"/>
<rect x="610.95" y="477.38" width="4.5" height="4.5"/>
<rect x="623.55" y="475.81" width="4.5" height="4.5"/>
<rect x="606.75" y="474.24" width="4.5" height="4.5"/>
<rect x="615.15" y="472.67" width="4.5" height="4.5"/>
<rect x="619.35" y="471.09" width="4.5" height="4.5"/>
<rect x="610.95" y="469.52" width="4.5" height="4.5"/>
<rect x="623.55" y="467.95" width="4.5" height="4.5"/>
<rect x="606.75" y="466.38" width="4.5" height="4.5"/>
<rect x="615.15" y="453.8" width="4.5" height="4.5"/>
<rect x="619.35" y="453.02" width="4.5" height="4.5"/>
<rect x="610.95" y="452.23" width="4.5" height="4.5"/>
<rect x="623.55" y="451.44" width="4.5" height="4.5"/>
<rect x="615.15" y="439.65" width="4.5" height="4.5"/>
<rect x="619.35" y="438.08" width="4.5" height="4.5"/>
<rect x="610.95" y="436.51" width="4.5" height="4.5"/>
<rect x="615.15" y="418.59" width="4.5" height="4.5"/>
</g>
<path d="M545.95 548.8V477.54H563.25V548.8" fill="none" stroke="#000" stroke-width="2.1"/>
<path d="M576.55 548.8V475.97H594.95V548.8" fill="none" stroke="#000" stroke-width="2.1"/>
<path d="M608.25 548.8V475.97H626.55V548.8" fill="none" stroke="#000" stroke-width="2.1"/>
<path d="M532.8 391.6V548.8H638.9" fill="none" stroke="#000" stroke-width="1.7"/>
<path d="M527.3 548.8H532.8" stroke="#000" stroke-width="1.6"/>
<text x="525.48" y="553.1" text-anchor="end" font-size="12" font-weight="bold">0</text>
<path d="M527.3 517.36H532.8" stroke="#000" stroke-width="1.6"/>
<text x="525.48" y="521.66" text-anchor="end" font-size="12" font-weight="bold">20</text>
<path d="M527.3 485.92H532.8" stroke="#000" stroke-width="1.6"/>
<text x="525.48" y="490.22" text-anchor="end" font-size="12" font-weight="bold">40</text>
<path d="M527.3 454.48H532.8" stroke="#000" stroke-width="1.6"/>
<text x="525.48" y="458.78" text-anchor="end" font-size="12" font-weight="bold">60</text>
<path d="M527.3 423.04H532.8" stroke="#000" stroke-width="1.6"/>
<text x="525.48" y="427.34" text-anchor="end" font-size="12" font-weight="bold">80</text>
<path d="M527.3 391.6H532.8" stroke="#000" stroke-width="1.6"/>
<text x="525.48" y="395.9" text-anchor="end" font-size="12" font-weight="bold">100</text>
<path d="M554.6 548.8V554.8" stroke="#000" stroke-width="1.6"/>
<path d="M585.75 548.8V554.8" stroke="#000" stroke-width="1.6"/>
<path d="M617.4 548.8V554.8" stroke="#000" stroke-width="1.6"/>
<text transform="translate(558.1 566.3) rotate(-45)" text-anchor="end" font-size="12" font-weight="bold">Control</text>
<text transform="translate(589.25 566.3) rotate(-45)" text-anchor="end" font-size="12" font-weight="bold">C9-</text>
<text transform="translate(620.9 566.3) rotate(-45)" text-anchor="end" font-size="12" font-weight="bold">C9+</text>
<text transform="translate(495.8 543.33) rotate(-90)" font-size="13.07" font-weight="bold" textLength="145.93" lengthAdjust="spacingAndGlyphs">% of total spine density</text>
<text x="535.95" y="333.4" font-size="14.2" font-weight="bold" textLength="83.97" lengthAdjust="spacingAndGlyphs">Thin spines</text>
<text x="489.8" y="310.9" font-size="16.3" stroke="#000" stroke-width="0.45">D</text>
<rect x="92.2" y="790.13" width="18.6" height="56.27" fill="#808080"/>
<rect x="124.9" y="777.39" width="18.2" height="69.01" fill="#c2c2c2"/>
<rect x="156.6" y="774.68" width="18" height="71.72" fill="#d6d6d6"/>
<path d="M101.5 808.18V770.6M96.5 770.6H106.5M96.5 808.18H106.5" stroke="#000" stroke-width="1.0" fill="none"/>
<path d="M134.5 805V748.46M129.5 748.46H139.5M129.5 805H139.5" stroke="#000" stroke-width="1.0" fill="none"/>
<path d="M165.5 798.94V764.39M160.5 764.39H170.5M160.5 798.94H170.5" stroke="#000" stroke-width="1.0" fill="none"/>
<g fill="#000" stroke="#fff" stroke-width="1.0" paint-order="stroke">
<circle cx="101.5" cy="819.01" r="2.3"/>
<circle cx="105.7" cy="812.96" r="2.3"/>
<circle cx="101.5" cy="811.37" r="2.3"/>
<circle cx="97.3" cy="809.77" r="2.3"/>
<circle cx="109.9" cy="808.18" r="2.3"/>
<circle cx="93.1" cy="806.59" r="2.3"/>
<circle cx="105.7" cy="805" r="2.3"/>
<circle cx="101.5" cy="801.81" r="2.3"/>
<circle cx="105.7" cy="796.55" r="2.3"/>
<circle cx="101.5" cy="792.25" r="2.3"/>
<circle cx="97.3" cy="790.66" r="2.3"/>
<circle cx="105.7" cy="789.07" r="2.3"/>
<circle cx="109.9" cy="788.27" r="2.3"/>
<circle cx="93.1" cy="787.48" r="2.3"/>
<circle cx="101.5" cy="785.88" r="2.3"/>
<circle cx="105.7" cy="781.11" r="2.3"/>
<circle cx="97.3" cy="779.51" r="2.3"/>
<circle cx="101.5" cy="777.92" r="2.3"/>
<circle cx="109.9" cy="776.97" r="2.3"/>
<circle cx="93.1" cy="776.33" r="2.3"/>
<circle cx="105.7" cy="774.74" r="2.3"/>
<circle cx="101.5" cy="763.59" r="2.3"/>
<circle cx="105.7" cy="762" r="2.3"/>
<circle cx="97.3" cy="760.4" r="2.3"/>
<circle cx="101.5" cy="749.58" r="2.3"/>
<path d="M134 832.25L136.8 837.25L131.2 837.25Z"/>
<path d="M134 822.7L136.8 827.7L131.2 827.7Z"/>
<path d="M138.2 816.33L141 821.33L135.4 821.33Z"/>
<path d="M134 813.94L136.8 818.94L131.2 818.94Z"/>
<path d="M134 798.81L136.8 803.81L131.2 803.81Z"/>
<path d="M138.2 797.22L141 802.22L135.4 802.22Z"/>
<path d="M134 789.25L136.8 794.25L131.2 794.25Z"/>
<path d="M138.2 787.66L141 792.66L135.4 792.66Z"/>
<path d="M129.8 786.07L132.6 791.07L127 791.07Z"/>
<path d="M134 781.29L136.8 786.29L131.2 786.29Z"/>
<path d="M138.2 779.7L141 784.7L135.4 784.7Z"/>
<path d="M129.8 778.11L132.6 783.11L127 783.11Z"/>
<path d="M134 769.03L136.8 774.03L131.2 774.03Z"/>
<path d="M138.2 766.16L141 771.16L135.4 771.16Z"/>
<path d="M129.8 765.37L132.6 770.37L127 770.37Z"/>
<path d="M142.4 764.57L145.2 769.57L139.6 769.57Z"/>
<path d="M125.6 763.77L128.4 768.77L122.8 768.77Z"/>
<path d="M134 754.7L136.8 759.7L131.2 759.7Z"/>
<path d="M134 746.26L136.8 751.26L131.2 751.26Z"/>
<path d="M138.2 744.66L141 749.66L135.4 749.66Z"/>
<path d="M134 733.52L136.8 738.52L131.2 738.52Z"/>
<path d="M138.2 731.92L141 736.92L135.4 736.92Z"/>
<path d="M129.8 730.33L132.6 735.33L127 735.33Z"/>
<path d="M142.4 728.74L145.2 733.74L139.6 733.74Z"/>
<rect x="163.35" y="823.77" width="4.5" height="4.5"/>
<rect x="167.55" y="817.71" width="4.5" height="4.5"/>
<rect x="163.35" y="806.57" width="4.5" height="4.5"/>
<rect x="163.35" y="797.97" width="4.5" height="4.5"/>
<rect x="167.55" y="796.69" width="4.5" height="4.5"/>
<rect x="159.15" y="796.38" width="4.5" height="4.5"/>
<rect x="163.35" y="786.82" width="4.5" height="4.5"/>
<rect x="167.55" y="786.02" width="4.5" height="4.5"/>
<rect x="159.15" y="785.23" width="4.5" height="4.5"/>
<rect x="171.75" y="780.45" width="4.5" height="4.5"/>
<rect x="163.35" y="778.86" width="4.5" height="4.5"/>
<rect x="167.55" y="777.26" width="4.5" height="4.5"/>
<rect x="159.15" y="775.67" width="4.5" height="4.5"/>
<rect x="154.95" y="774.08" width="4.5" height="4.5"/>
<rect x="171.75" y="772.49" width="4.5" height="4.5"/>
<rect x="163.35" y="767.71" width="4.5" height="4.5"/>
<rect x="167.55" y="766.12" width="4.5" height="4.5"/>
<rect x="159.15" y="765.32" width="4.5" height="4.5"/>
<rect x="171.75" y="764.52" width="4.5" height="4.5"/>
<rect x="154.95" y="763.73" width="4.5" height="4.5"/>
<rect x="163.35" y="762.93" width="4.5" height="4.5"/>
<rect x="163.35" y="753.38" width="4.5" height="4.5"/>
<rect x="167.55" y="751.78" width="4.5" height="4.5"/>
<rect x="159.15" y="750.99" width="4.5" height="4.5"/>
<rect x="171.75" y="750.19" width="4.5" height="4.5"/>
<rect x="154.95" y="748.6" width="4.5" height="4.5"/>
<rect x="163.35" y="743.82" width="4.5" height="4.5"/>
<rect x="167.55" y="742.23" width="4.5" height="4.5"/>
<rect x="163.35" y="731.08" width="4.5" height="4.5"/>
<rect x="163.35" y="716.75" width="4.5" height="4.5"/>
</g>
<path d="M92.35 846.4V790.28H110.65V846.4" fill="none" stroke="#000" stroke-width="2.1"/>
<path d="M125.05 846.4V777.54H142.95V846.4" fill="none" stroke="#000" stroke-width="2.1"/>
<path d="M156.75 846.4V774.83H174.45V846.4" fill="none" stroke="#000" stroke-width="2.1"/>
<path d="M80.2 687.15V846.4H187.7" fill="none" stroke="#000" stroke-width="1.7"/>
<path d="M74.7 846.4H80.2" stroke="#000" stroke-width="1.6"/>
<text x="72.88" y="850.7" text-anchor="end" font-size="12" font-weight="bold">0</text>
<path d="M74.7 814.55H80.2" stroke="#000" stroke-width="1.6"/>
<text x="72.88" y="818.85" text-anchor="end" font-size="12" font-weight="bold">20</text>
<path d="M74.7 782.7H80.2" stroke="#000" stroke-width="1.6"/>
<text x="72.88" y="787" text-anchor="end" font-size="12" font-weight="bold">40</text>
<path d="M74.7 750.85H80.2" stroke="#000" stroke-width="1.6"/>
<text x="72.88" y="755.15" text-anchor="end" font-size="12" font-weight="bold">60</text>
<path d="M74.7 719H80.2" stroke="#000" stroke-width="1.6"/>
<text x="72.88" y="723.3" text-anchor="end" font-size="12" font-weight="bold">80</text>
<path d="M74.7 687.15H80.2" stroke="#000" stroke-width="1.6"/>
<text x="72.88" y="691.45" text-anchor="end" font-size="12" font-weight="bold">100</text>
<path d="M101.5 846.4V852.4" stroke="#000" stroke-width="1.6"/>
<path d="M134 846.4V852.4" stroke="#000" stroke-width="1.6"/>
<path d="M165.6 846.4V852.4" stroke="#000" stroke-width="1.6"/>
<text transform="translate(105 863.9) rotate(-45)" text-anchor="end" font-size="12" font-weight="bold">Control</text>
<text transform="translate(137.5 863.9) rotate(-45)" text-anchor="end" font-size="12" font-weight="bold">C9-</text>
<text transform="translate(169.1 863.9) rotate(-45)" text-anchor="end" font-size="12" font-weight="bold">C9+</text>
<text transform="translate(41.8 840.53) rotate(-90)" font-size="13.2" font-weight="bold" textLength="147.44" lengthAdjust="spacingAndGlyphs">% of total spine density</text>
<text x="81.24" y="631.6" font-size="14.4" font-weight="bold" textLength="105.07" lengthAdjust="spacingAndGlyphs">Stubby spines</text>
<text x="1.8" y="610.2" font-size="16.3" stroke="#000" stroke-width="0.45">E</text>
<path d="M101.7 666.2H165.5" stroke="#000" stroke-width="1.6"/>
<path d="M133.6 652.05L133.6 658.55M130.79 653.68L136.41 656.93M136.41 653.68L130.79 656.93" stroke="#000" stroke-width="1.45" stroke-linecap="round"/><circle cx="133.6" cy="655.3" r="1.55"/>
<path d="M101.7 699.3H129.3" stroke="#000" stroke-width="1.6"/>
<text x="115.5" y="692.3" text-anchor="middle" font-size="12">ns</text>
<path d="M136.7 699.3H165.5" stroke="#000" stroke-width="1.6"/>
<text x="151.1" y="692.3" text-anchor="middle" font-size="12">ns</text>
<rect x="320.9" y="768.72" width="19.1" height="76.98" fill="#808080"/>
<rect x="354.5" y="766.4" width="19.2" height="79.3" fill="#c2c2c2"/>
<rect x="387.9" y="757.08" width="19.3" height="88.62" fill="#d6d6d6"/>
<path d="M330.5 770.82V764.16M325.5 764.16H335.5M325.5 770.82H335.5" stroke="#000" stroke-width="1.0" fill="none"/>
<path d="M364.5 769.16V762.5M359.5 762.5H369.5M359.5 769.16H369.5" stroke="#000" stroke-width="1.0" fill="none"/>
<path d="M397.5 760.84V752.52M392.5 752.52H402.5M392.5 760.84H402.5" stroke="#000" stroke-width="1.0" fill="none"/>
<g fill="#000" stroke="#fff" stroke-width="1.0" paint-order="stroke">
<circle cx="330.45" cy="792.45" r="2.3"/>
<circle cx="334.65" cy="790.79" r="2.3"/>
<circle cx="326.25" cy="789.12" r="2.3"/>
<circle cx="338.85" cy="787.46" r="2.3"/>
<circle cx="322.05" cy="785.8" r="2.3"/>
<circle cx="330.45" cy="784.13" r="2.3"/>
<circle cx="334.65" cy="782.47" r="2.3"/>
<circle cx="326.25" cy="779.14" r="2.3"/>
<circle cx="338.85" cy="777.48" r="2.3"/>
<circle cx="330.45" cy="775.81" r="2.3"/>
<circle cx="334.65" cy="774.15" r="2.3"/>
<circle cx="324.15" cy="772.48" r="2.3"/>
<circle cx="340.95" cy="770.82" r="2.3"/>
<circle cx="328.35" cy="769.16" r="2.3"/>
<circle cx="332.55" cy="767.49" r="2.3"/>
<circle cx="336.75" cy="765.83" r="2.3"/>
<circle cx="324.15" cy="764.16" r="2.3"/>
<circle cx="340.95" cy="762.5" r="2.3"/>
<circle cx="330.45" cy="759.17" r="2.3"/>
<circle cx="334.65" cy="757.51" r="2.3"/>
<circle cx="326.25" cy="756.68" r="2.3"/>
<circle cx="338.85" cy="755.84" r="2.3"/>
<circle cx="322.05" cy="755.01" r="2.3"/>
<circle cx="330.45" cy="754.18" r="2.3"/>
<circle cx="334.65" cy="749.85" r="2.3"/>
<circle cx="330.45" cy="734.21" r="2.3"/>
<circle cx="330.45" cy="715.91" r="2.3"/>
<path d="M364.1 784.46L366.9 789.46L361.3 789.46Z"/>
<path d="M368.3 784.46L371.1 789.46L365.5 789.46Z"/>
<path d="M359.9 783.63L362.7 788.63L357.1 788.63Z"/>
<path d="M372.5 782.8L375.3 787.8L369.7 787.8Z"/>
<path d="M364.1 774.48L366.9 779.48L361.3 779.48Z"/>
<path d="M368.3 772.81L371.1 777.81L365.5 777.81Z"/>
<path d="M359.9 771.15L362.7 776.15L357.1 776.15Z"/>
<path d="M372.5 767.82L375.3 772.82L369.7 772.82Z"/>
<path d="M364.1 766.16L366.9 771.16L361.3 771.16Z"/>
<path d="M368.3 765.32L371.1 770.32L365.5 770.32Z"/>
<path d="M357.8 764.49L360.6 769.49L355 769.49Z"/>
<path d="M353.6 762.83L356.4 767.83L350.8 767.83Z"/>
<path d="M374.6 761.16L377.4 766.16L371.8 766.16Z"/>
<path d="M364.1 757.84L366.9 762.84L361.3 762.84Z"/>
<path d="M368.3 756.17L371.1 761.17L365.5 761.17Z"/>
<path d="M359.9 754.51L362.7 759.51L357.1 759.51Z"/>
<path d="M364.1 749.52L366.9 754.52L361.3 754.52Z"/>
<path d="M368.3 747.85L371.1 752.85L365.5 752.85Z"/>
<path d="M364.1 739.53L366.9 744.53L361.3 744.53Z"/>
<path d="M368.3 737.87L371.1 742.87L365.5 742.87Z"/>
<path d="M359.9 736.2L362.7 741.2L357.1 741.2Z"/>
<path d="M364.1 727.22L366.9 732.22L361.3 732.22Z"/>
<rect x="395.3" y="779.39" width="4.5" height="4.5"/>
<rect x="399.5" y="778.55" width="4.5" height="4.5"/>
<rect x="391.1" y="776.89" width="4.5" height="4.5"/>
<rect x="403.7" y="775.23" width="4.5" height="4.5"/>
<rect x="386.9" y="773.56" width="4.5" height="4.5"/>
<rect x="395.3" y="768.57" width="4.5" height="4.5"/>
<rect x="399.5" y="766.91" width="4.5" height="4.5"/>
<rect x="391.1" y="765.24" width="4.5" height="4.5"/>
<rect x="403.7" y="764.41" width="4.5" height="4.5"/>
<rect x="386.9" y="763.58" width="4.5" height="4.5"/>
<rect x="397.4" y="761.91" width="4.5" height="4.5"/>
<rect x="393.2" y="758.59" width="4.5" height="4.5"/>
<rect x="401.6" y="756.92" width="4.5" height="4.5"/>
<rect x="389" y="756.09" width="4.5" height="4.5"/>
<rect x="405.8" y="755.26" width="4.5" height="4.5"/>
<rect x="384.8" y="755.26" width="4.5" height="4.5"/>
<rect x="397.4" y="754.43" width="4.5" height="4.5"/>
<rect x="393.2" y="753.59" width="4.5" height="4.5"/>
<rect x="395.3" y="736.95" width="4.5" height="4.5"/>
<rect x="399.5" y="736.12" width="4.5" height="4.5"/>
<rect x="391.1" y="735.29" width="4.5" height="4.5"/>
<rect x="403.7" y="733.63" width="4.5" height="4.5"/>
<rect x="395.3" y="702.34" width="4.5" height="4.5"/>
</g>
<path d="M321.05 845.7V768.87H339.85V845.7" fill="none" stroke="#000" stroke-width="2.1"/>
<path d="M354.65 845.7V766.55H373.55V845.7" fill="none" stroke="#000" stroke-width="2.1"/>
<path d="M388.05 845.7V757.23H407.05V845.7" fill="none" stroke="#000" stroke-width="2.1"/>
<path d="M308.2 679.3V845.7H420.1" fill="none" stroke="#000" stroke-width="1.7"/>
<path d="M302.7 845.7H308.2" stroke="#000" stroke-width="1.6"/>
<text x="300.88" y="850" text-anchor="end" font-size="12" font-weight="bold">0.0</text>
<path d="M302.7 812.42H308.2" stroke="#000" stroke-width="1.6"/>
<text x="300.88" y="816.72" text-anchor="end" font-size="12" font-weight="bold">0.2</text>
<path d="M302.7 779.14H308.2" stroke="#000" stroke-width="1.6"/>
<text x="300.88" y="783.44" text-anchor="end" font-size="12" font-weight="bold">0.4</text>
<path d="M302.7 745.86H308.2" stroke="#000" stroke-width="1.6"/>
<text x="300.88" y="750.16" text-anchor="end" font-size="12" font-weight="bold">0.6</text>
<path d="M302.7 712.58H308.2" stroke="#000" stroke-width="1.6"/>
<text x="300.88" y="716.88" text-anchor="end" font-size="12" font-weight="bold">0.8</text>
<path d="M302.7 679.3H308.2" stroke="#000" stroke-width="1.6"/>
<text x="300.88" y="683.6" text-anchor="end" font-size="12" font-weight="bold">1.0</text>
<path d="M330.45 845.7V851.7" stroke="#000" stroke-width="1.6"/>
<path d="M364.1 845.7V851.7" stroke="#000" stroke-width="1.6"/>
<path d="M397.55 845.7V851.7" stroke="#000" stroke-width="1.6"/>
<text transform="translate(333.95 863.2) rotate(-45)" text-anchor="end" font-size="12" font-weight="bold">Control</text>
<text transform="translate(367.6 863.2) rotate(-45)" text-anchor="end" font-size="12" font-weight="bold">C9-</text>
<text transform="translate(401.05 863.2) rotate(-45)" text-anchor="end" font-size="12" font-weight="bold">C9+</text>
<text transform="translate(274.3 809.1) rotate(-90)" font-size="13.84" font-weight="bold" textLength="93.09" lengthAdjust="spacingAndGlyphs">Diameter (μm)</text>
<text x="301.76" y="656.8" font-size="14.6" font-weight="bold" textLength="124.13" lengthAdjust="spacingAndGlyphs">Mushroom head</text>
<text x="247.8" y="610.2" font-size="16.3" stroke="#000" stroke-width="0.45">F</text>
<rect x="548.6" y="776.7" width="18.5" height="68" fill="#808080"/>
<rect x="580.3" y="777.87" width="18.4" height="66.83" fill="#c2c2c2"/>
<rect x="611.9" y="779.83" width="18.8" height="64.87" fill="#d6d6d6"/>
<path d="M557.5 778.93V772.66M552.5 772.66H562.5M552.5 778.93H562.5" stroke="#000" stroke-width="1.0" fill="none"/>
<path d="M589.5 780.1V773.84M584.5 773.84H594.5M584.5 780.1H594.5" stroke="#000" stroke-width="1.0" fill="none"/>
<path d="M621.5 784.02V774.23M616.5 774.23H626.5M616.5 784.02H626.5" stroke="#000" stroke-width="1.0" fill="none"/>
<g fill="#000" stroke="#fff" stroke-width="1.0" paint-order="stroke">
<circle cx="557.85" cy="805.55" r="2.3"/>
<circle cx="562.05" cy="803.59" r="2.3"/>
<circle cx="553.65" cy="799.68" r="2.3"/>
<circle cx="557.85" cy="797.72" r="2.3"/>
<circle cx="562.05" cy="793.81" r="2.3"/>
<circle cx="553.65" cy="791.85" r="2.3"/>
<circle cx="557.85" cy="789.89" r="2.3"/>
<circle cx="566.25" cy="787.93" r="2.3"/>
<circle cx="562.05" cy="785.98" r="2.3"/>
<circle cx="553.65" cy="784.02" r="2.3"/>
<circle cx="557.85" cy="782.06" r="2.3"/>
<circle cx="566.25" cy="780.1" r="2.3"/>
<circle cx="562.05" cy="778.14" r="2.3"/>
<circle cx="557.85" cy="774.23" r="2.3"/>
<circle cx="553.65" cy="772.27" r="2.3"/>
<circle cx="562.05" cy="770.32" r="2.3"/>
<circle cx="566.25" cy="768.36" r="2.3"/>
<circle cx="557.85" cy="766.4" r="2.3"/>
<circle cx="549.45" cy="766.4" r="2.3"/>
<circle cx="553.65" cy="764.44" r="2.3"/>
<circle cx="562.05" cy="762.49" r="2.3"/>
<circle cx="566.25" cy="760.53" r="2.3"/>
<circle cx="557.85" cy="758.57" r="2.3"/>
<circle cx="553.65" cy="756.61" r="2.3"/>
<circle cx="562.05" cy="754.66" r="2.3"/>
<circle cx="566.25" cy="752.7" r="2.3"/>
<circle cx="557.85" cy="750.74" r="2.3"/>
<circle cx="562.05" cy="746.83" r="2.3"/>
<path d="M589.5 807.64L592.3 812.64L586.7 812.64Z"/>
<path d="M593.7 806.47L596.5 811.47L590.9 811.47Z"/>
<path d="M589.5 799.81L592.3 804.81L586.7 804.81Z"/>
<path d="M593.7 794.72L596.5 799.72L590.9 799.72Z"/>
<path d="M587.4 792.76L590.2 797.76L584.6 797.76Z"/>
<path d="M583.2 788.85L586 793.85L580.4 793.85Z"/>
<path d="M591.6 786.89L594.4 791.89L588.8 791.89Z"/>
<path d="M595.8 786.11L598.6 791.11L593 791.11Z"/>
<path d="M587.4 784.93L590.2 789.93L584.6 789.93Z"/>
<path d="M589.5 777.1L592.3 782.1L586.7 782.1Z"/>
<path d="M593.7 775.93L596.5 780.93L590.9 780.93Z"/>
<path d="M585.3 775.14L588.1 780.14L582.5 780.14Z"/>
<path d="M597.9 773.19L600.7 778.19L595.1 778.19Z"/>
<path d="M581.1 772.01L583.9 777.01L578.3 777.01Z"/>
<path d="M589.5 769.27L592.3 774.27L586.7 774.27Z"/>
<path d="M593.7 767.32L596.5 772.32L590.9 772.32Z"/>
<path d="M585.3 765.36L588.1 770.36L582.5 770.36Z"/>
<path d="M597.9 764.18L600.7 769.18L595.1 769.18Z"/>
<path d="M581.1 763.4L583.9 768.4L578.3 768.4Z"/>
<path d="M589.5 763.4L592.3 768.4L586.7 768.4Z"/>
<path d="M593.7 761.44L596.5 766.44L590.9 766.44Z"/>
<path d="M589.5 752.44L592.3 757.44L586.7 757.44Z"/>
<path d="M589.5 743.83L592.3 748.83L586.7 748.83Z"/>
<path d="M589.5 723.08L592.3 728.08L586.7 728.08Z"/>
<rect x="619.05" y="839.71" width="4.5" height="4.5"/>
<rect x="619.05" y="828.75" width="4.5" height="4.5"/>
<rect x="623.25" y="826.79" width="4.5" height="4.5"/>
<rect x="619.05" y="820.92" width="4.5" height="4.5"/>
<rect x="623.25" y="817" width="4.5" height="4.5"/>
<rect x="619.05" y="806.04" width="4.5" height="4.5"/>
<rect x="623.25" y="804.47" width="4.5" height="4.5"/>
<rect x="614.85" y="803.3" width="4.5" height="4.5"/>
<rect x="619.05" y="791.56" width="4.5" height="4.5"/>
<rect x="623.25" y="789.6" width="4.5" height="4.5"/>
<rect x="614.85" y="788.42" width="4.5" height="4.5"/>
<rect x="627.45" y="787.64" width="4.5" height="4.5"/>
<rect x="610.65" y="785.68" width="4.5" height="4.5"/>
<rect x="619.05" y="783.73" width="4.5" height="4.5"/>
<rect x="623.25" y="781.77" width="4.5" height="4.5"/>
<rect x="614.85" y="780.59" width="4.5" height="4.5"/>
<rect x="627.45" y="779.81" width="4.5" height="4.5"/>
<rect x="610.65" y="777.85" width="4.5" height="4.5"/>
<rect x="619.05" y="773.94" width="4.5" height="4.5"/>
<rect x="623.25" y="772.76" width="4.5" height="4.5"/>
<rect x="614.85" y="771.98" width="4.5" height="4.5"/>
<rect x="627.45" y="771.2" width="4.5" height="4.5"/>
<rect x="610.65" y="768.07" width="4.5" height="4.5"/>
<rect x="619.05" y="766.11" width="4.5" height="4.5"/>
<rect x="623.25" y="764.93" width="4.5" height="4.5"/>
<rect x="614.85" y="764.15" width="4.5" height="4.5"/>
<rect x="619.05" y="755.54" width="4.5" height="4.5"/>
<rect x="623.25" y="753.19" width="4.5" height="4.5"/>
<rect x="619.05" y="744.58" width="4.5" height="4.5"/>
<rect x="623.25" y="742.62" width="4.5" height="4.5"/>
</g>
<path d="M548.75 844.7V776.85H566.95V844.7" fill="none" stroke="#000" stroke-width="2.1"/>
<path d="M580.45 844.7V778.02H598.55V844.7" fill="none" stroke="#000" stroke-width="2.1"/>
<path d="M612.05 844.7V779.98H630.55V844.7" fill="none" stroke="#000" stroke-width="2.1"/>
<path d="M536.7 688.1V844.7H643" fill="none" stroke="#000" stroke-width="1.7"/>
<path d="M531.2 844.7H536.7" stroke="#000" stroke-width="1.6"/>
<text x="529.38" y="849" text-anchor="end" font-size="12" font-weight="bold">0.0</text>
<path d="M531.2 805.55H536.7" stroke="#000" stroke-width="1.6"/>
<text x="529.38" y="809.85" text-anchor="end" font-size="12" font-weight="bold">0.1</text>
<path d="M531.2 766.4H536.7" stroke="#000" stroke-width="1.6"/>
<text x="529.38" y="770.7" text-anchor="end" font-size="12" font-weight="bold">0.2</text>
<path d="M531.2 727.25H536.7" stroke="#000" stroke-width="1.6"/>
<text x="529.38" y="731.55" text-anchor="end" font-size="12" font-weight="bold">0.3</text>
<path d="M531.2 688.1H536.7" stroke="#000" stroke-width="1.6"/>
<text x="529.38" y="692.4" text-anchor="end" font-size="12" font-weight="bold">0.4</text>
<path d="M557.85 844.7V850.7" stroke="#000" stroke-width="1.6"/>
<path d="M589.5 844.7V850.7" stroke="#000" stroke-width="1.6"/>
<path d="M621.3 844.7V850.7" stroke="#000" stroke-width="1.6"/>
<text transform="translate(561.35 862.2) rotate(-45)" text-anchor="end" font-size="12" font-weight="bold">Control</text>
<text transform="translate(593 862.2) rotate(-45)" text-anchor="end" font-size="12" font-weight="bold">C9-</text>
<text transform="translate(624.8 862.2) rotate(-45)" text-anchor="end" font-size="12" font-weight="bold">C9+</text>
<text transform="translate(503.3 810.65) rotate(-90)" font-size="13.01" font-weight="bold" textLength="87.49" lengthAdjust="spacingAndGlyphs">Diameter (μm)</text>
<text x="554.35" y="666.8" font-size="14.2" font-weight="bold" textLength="71.67" lengthAdjust="spacingAndGlyphs">Thin head</text>
<text x="490.28" y="610.3" font-size="16.3" stroke="#000" stroke-width="0.45">G</text>
<rect x="91.2" y="1109.99" width="18.2" height="64.21" fill="#808080"/>
<rect x="122.4" y="1123.2" width="18.1" height="51" fill="#c2c2c2"/>
<rect x="153.1" y="1109.99" width="18.2" height="64.21" fill="#d6d6d6"/>
<path d="M100.5 1112.82V1105.05M95.5 1105.05H105.5M95.5 1112.82H105.5" stroke="#000" stroke-width="1.0" fill="none"/>
<path d="M131.5 1125.25V1119.81M126.5 1119.81H136.5M126.5 1125.25H136.5" stroke="#000" stroke-width="1.0" fill="none"/>
<path d="M162.5 1115.15V1102.72M157.5 1102.72H167.5M157.5 1115.15H167.5" stroke="#000" stroke-width="1.0" fill="none"/>
<g fill="#000" stroke="#fff" stroke-width="1.0" paint-order="stroke">
<circle cx="100.3" cy="1138.46" r="2.3"/>
<circle cx="104.5" cy="1136.9" r="2.3"/>
<circle cx="96.1" cy="1135.35" r="2.3"/>
<circle cx="100.3" cy="1130.69" r="2.3"/>
<circle cx="104.5" cy="1127.58" r="2.3"/>
<circle cx="96.1" cy="1126.03" r="2.3"/>
<circle cx="100.3" cy="1122.92" r="2.3"/>
<circle cx="108.7" cy="1121.36" r="2.3"/>
<circle cx="104.5" cy="1119.81" r="2.3"/>
<circle cx="96.1" cy="1118.26" r="2.3"/>
<circle cx="91.9" cy="1116.7" r="2.3"/>
<circle cx="100.3" cy="1115.15" r="2.3"/>
<circle cx="108.7" cy="1113.59" r="2.3"/>
<circle cx="104.5" cy="1112.04" r="2.3"/>
<circle cx="96.1" cy="1112.04" r="2.3"/>
<circle cx="89.8" cy="1110.49" r="2.3"/>
<circle cx="100.3" cy="1108.93" r="2.3"/>
<circle cx="110.8" cy="1107.38" r="2.3"/>
<circle cx="94" cy="1105.82" r="2.3"/>
<circle cx="104.5" cy="1104.27" r="2.3"/>
<circle cx="98.2" cy="1103.49" r="2.3"/>
<circle cx="89.8" cy="1102.72" r="2.3"/>
<circle cx="100.3" cy="1091.84" r="2.3"/>
<circle cx="104.5" cy="1091.06" r="2.3"/>
<circle cx="96.1" cy="1090.28" r="2.3"/>
<circle cx="100.3" cy="1080.96" r="2.3"/>
<circle cx="104.5" cy="1079.41" r="2.3"/>
<circle cx="96.1" cy="1077.85" r="2.3"/>
<circle cx="100.3" cy="1059.2" r="2.3"/>
<path d="M131.45 1147.11L134.25 1152.11L128.65 1152.11Z"/>
<path d="M131.45 1137.01L134.25 1142.01L128.65 1142.01Z"/>
<path d="M135.65 1135.46L138.45 1140.46L132.85 1140.46Z"/>
<path d="M127.25 1132.35L130.05 1137.35L124.45 1137.35Z"/>
<path d="M131.45 1127.69L134.25 1132.69L128.65 1132.69Z"/>
<path d="M135.65 1126.13L138.45 1131.13L132.85 1131.13Z"/>
<path d="M127.25 1124.58L130.05 1129.58L124.45 1129.58Z"/>
<path d="M139.85 1123.03L142.65 1128.03L137.05 1128.03Z"/>
<path d="M123.05 1121.47L125.85 1126.47L120.25 1126.47Z"/>
<path d="M131.45 1119.14L134.25 1124.14L128.65 1124.14Z"/>
<path d="M135.65 1118.36L138.45 1123.36L132.85 1123.36Z"/>
<path d="M127.25 1117.59L130.05 1122.59L124.45 1122.59Z"/>
<path d="M139.85 1116.81L142.65 1121.81L137.05 1121.81Z"/>
<path d="M123.05 1115.26L125.85 1120.26L120.25 1120.26Z"/>
<path d="M131.45 1113.7L134.25 1118.7L128.65 1118.7Z"/>
<path d="M135.65 1110.59L138.45 1115.59L132.85 1115.59Z"/>
<path d="M127.25 1109.04L130.05 1114.04L124.45 1114.04Z"/>
<path d="M139.85 1109.04L142.65 1114.04L137.05 1114.04Z"/>
<path d="M123.05 1107.49L125.85 1112.49L120.25 1112.49Z"/>
<path d="M131.45 1105.93L134.25 1110.93L128.65 1110.93Z"/>
<path d="M131.45 1089.93L134.25 1094.93L128.65 1094.93Z"/>
<rect x="159.95" y="1142.73" width="4.5" height="4.5"/>
<rect x="162.05" y="1136.21" width="4.5" height="4.5"/>
<rect x="157.85" y="1133.1" width="4.5" height="4.5"/>
<rect x="166.25" y="1131.55" width="4.5" height="4.5"/>
<rect x="153.65" y="1129.99" width="4.5" height="4.5"/>
<rect x="162.05" y="1128.44" width="4.5" height="4.5"/>
<rect x="157.85" y="1125.33" width="4.5" height="4.5"/>
<rect x="162.05" y="1119.11" width="4.5" height="4.5"/>
<rect x="157.85" y="1117.56" width="4.5" height="4.5"/>
<rect x="166.25" y="1116.01" width="4.5" height="4.5"/>
<rect x="153.65" y="1114.45" width="4.5" height="4.5"/>
<rect x="170.45" y="1112.9" width="4.5" height="4.5"/>
<rect x="162.05" y="1111.34" width="4.5" height="4.5"/>
<rect x="157.85" y="1109.79" width="4.5" height="4.5"/>
<rect x="166.25" y="1108.24" width="4.5" height="4.5"/>
<rect x="162.05" y="1103.57" width="4.5" height="4.5"/>
<rect x="155.75" y="1102.8" width="4.5" height="4.5"/>
<rect x="151.55" y="1102.02" width="4.5" height="4.5"/>
<rect x="166.25" y="1100.47" width="4.5" height="4.5"/>
<rect x="159.95" y="1096.58" width="4.5" height="4.5"/>
<rect x="170.45" y="1095.8" width="4.5" height="4.5"/>
<rect x="162.05" y="1089.59" width="4.5" height="4.5"/>
<rect x="157.85" y="1088.03" width="4.5" height="4.5"/>
<rect x="166.25" y="1086.48" width="4.5" height="4.5"/>
<rect x="159.95" y="1070.16" width="4.5" height="4.5"/>
<rect x="164.15" y="1069.39" width="4.5" height="4.5"/>
<rect x="159.95" y="1057.73" width="4.5" height="4.5"/>
<rect x="164.15" y="1056.95" width="4.5" height="4.5"/>
<rect x="159.95" y="1034.58" width="4.5" height="4.5"/>
</g>
<path d="M91.35 1174.2V1110.14H109.25V1174.2" fill="none" stroke="#000" stroke-width="2.1"/>
<path d="M122.55 1174.2V1123.35H140.35V1174.2" fill="none" stroke="#000" stroke-width="2.1"/>
<path d="M153.25 1174.2V1110.14H171.15V1174.2" fill="none" stroke="#000" stroke-width="2.1"/>
<path d="M79.4 1018.8V1174.2H183.9" fill="none" stroke="#000" stroke-width="1.7"/>
<path d="M73.9 1174.2H79.4" stroke="#000" stroke-width="1.6"/>
<text x="72.08" y="1178.5" text-anchor="end" font-size="12" font-weight="bold">0.0</text>
<path d="M73.9 1143.12H79.4" stroke="#000" stroke-width="1.6"/>
<text x="72.08" y="1147.42" text-anchor="end" font-size="12" font-weight="bold">0.2</text>
<path d="M73.9 1112.04H79.4" stroke="#000" stroke-width="1.6"/>
<text x="72.08" y="1116.34" text-anchor="end" font-size="12" font-weight="bold">0.4</text>
<path d="M73.9 1080.96H79.4" stroke="#000" stroke-width="1.6"/>
<text x="72.08" y="1085.26" text-anchor="end" font-size="12" font-weight="bold">0.6</text>
<path d="M73.9 1049.88H79.4" stroke="#000" stroke-width="1.6"/>
<text x="72.08" y="1054.18" text-anchor="end" font-size="12" font-weight="bold">0.8</text>
<path d="M73.9 1018.8H79.4" stroke="#000" stroke-width="1.6"/>
<text x="72.08" y="1023.1" text-anchor="end" font-size="12" font-weight="bold">1.0</text>
<path d="M100.3 1174.2V1180.2" stroke="#000" stroke-width="1.6"/>
<path d="M131.45 1174.2V1180.2" stroke="#000" stroke-width="1.6"/>
<path d="M162.2 1174.2V1180.2" stroke="#000" stroke-width="1.6"/>
<text transform="translate(103.8 1191.7) rotate(-45)" text-anchor="end" font-size="12" font-weight="bold">Control</text>
<text transform="translate(134.95 1191.7) rotate(-45)" text-anchor="end" font-size="12" font-weight="bold">C9-</text>
<text transform="translate(165.7 1191.7) rotate(-45)" text-anchor="end" font-size="12" font-weight="bold">C9+</text>
<text transform="translate(45.7 1139.64) rotate(-90)" font-size="12.86" font-weight="bold" textLength="86.47" lengthAdjust="spacingAndGlyphs">Diameter (μm)</text>
<text x="86.15" y="951.5" font-size="13.8" font-weight="bold" textLength="90.04" lengthAdjust="spacingAndGlyphs">Stubby head</text>
<text x="2" y="926.7" font-size="16.3" stroke="#000" stroke-width="0.45">H</text>
<path d="M100 985H162.2" stroke="#000" stroke-width="1.6"/>
<text x="131.1" y="978" text-anchor="middle" font-size="12">ns</text>
<path d="M100 1018.2H127.7" stroke="#000" stroke-width="1.6"/>
<path d="M113.85 1004.65L113.85 1011.15M111.04 1006.28L116.66 1009.53M116.66 1006.28L111.04 1009.53" stroke="#000" stroke-width="1.45" stroke-linecap="round"/><circle cx="113.85" cy="1007.9" r="1.55"/>
<path d="M134.4 1018.2H162.2" stroke="#000" stroke-width="1.6"/>
<text x="148.3" y="1011.2" text-anchor="middle" font-size="12">ns</text>
<text x="248.33" y="926.5" font-size="16.3" stroke="#000" stroke-width="0.45">I</text>
<text x="336.8" y="968.7" font-size="15.5" font-weight="bold">Calcium imaging</text>
<rect x="314.4" y="1110.01" width="15.3" height="65.49" fill="#dadada" stroke="#2a2a2a" stroke-width="0.9"/>
<rect x="333.7" y="1125.94" width="15.1" height="49.56" fill="#dadada" stroke="#2a2a2a" stroke-width="0.9"/>
<rect x="352.7" y="1125.06" width="15.2" height="50.44" fill="#dadada" stroke="#2a2a2a" stroke-width="0.9"/>
<rect x="391.4" y="1122.4" width="15.4" height="53.1" fill="#dadada" stroke="#2a2a2a" stroke-width="0.9"/>
<rect x="410.6" y="1152.49" width="15.4" height="23.01" fill="#dadada" stroke="#2a2a2a" stroke-width="0.9"/>
<rect x="429.6" y="1151.61" width="15.4" height="23.89" fill="#dadada" stroke="#2a2a2a" stroke-width="0.9"/>
<rect x="467.9" y="1055.14" width="15.6" height="120.36" fill="#dadada" stroke="#2a2a2a" stroke-width="0.9"/>
<rect x="487.2" y="1081.69" width="15.7" height="93.81" fill="#dadada" stroke="#2a2a2a" stroke-width="0.9"/>
<rect x="506.4" y="1119.74" width="15.6" height="55.76" fill="#dadada" stroke="#2a2a2a" stroke-width="0.9"/>
<path d="M322.05 1129.48V1090.54M319.05 1090.54H325.05" stroke="#222" stroke-width="0.9" fill="none"/>
<circle cx="320.55" cy="1090.54" r="2.1" fill="#000"/>
<circle cx="323.25" cy="1130.37" r="2.1" fill="#000"/>
<path d="M341.25 1140.1V1111.78M338.25 1111.78H344.25" stroke="#222" stroke-width="0.9" fill="none"/>
<circle cx="339.75" cy="1098.51" r="2.1" fill="#000"/>
<circle cx="342.45" cy="1133.02" r="2.1" fill="#000"/>
<circle cx="340.75" cy="1146.3" r="2.1" fill="#000"/>
<path d="M360.3 1133.02V1117.09M357.3 1117.09H363.3" stroke="#222" stroke-width="0.9" fill="none"/>
<circle cx="358.8" cy="1110.01" r="2.1" fill="#000"/>
<circle cx="361.5" cy="1117.09" r="2.1" fill="#000"/>
<circle cx="359.8" cy="1118.86" r="2.1" fill="#000"/>
<circle cx="362.1" cy="1156.03" r="2.1" fill="#000"/>
<path d="M399.1 1123.29V1121.52M396.1 1121.52H402.1" stroke="#222" stroke-width="0.9" fill="none"/>
<circle cx="397.6" cy="1118.86" r="2.1" fill="#000"/>
<circle cx="400.3" cy="1121.52" r="2.1" fill="#000"/>
<path d="M418.3 1157.8V1147.18M415.3 1147.18H421.3" stroke="#222" stroke-width="0.9" fill="none"/>
<circle cx="416.8" cy="1141.87" r="2.1" fill="#000"/>
<circle cx="419.5" cy="1157.8" r="2.1" fill="#000"/>
<circle cx="417.8" cy="1161.34" r="2.1" fill="#000"/>
<path d="M437.3 1156.91V1146.3M434.3 1146.3H440.3" stroke="#222" stroke-width="0.9" fill="none"/>
<circle cx="435.8" cy="1136.56" r="2.1" fill="#000"/>
<circle cx="438.5" cy="1154.26" r="2.1" fill="#000"/>
<circle cx="436.8" cy="1152.49" r="2.1" fill="#000"/>
<circle cx="439.1" cy="1163.11" r="2.1" fill="#000"/>
<path d="M475.7 1076.38V1033.9M472.7 1033.9H478.7" stroke="#222" stroke-width="0.9" fill="none"/>
<circle cx="474.2" cy="1033.9" r="2.1" fill="#000"/>
<circle cx="476.9" cy="1077.26" r="2.1" fill="#000"/>
<circle cx="475.2" cy="1087" r="2.1" fill="#000"/>
<path d="M495.05 1118.86V1044.52M492.05 1044.52H498.05" stroke="#222" stroke-width="0.9" fill="none"/>
<circle cx="493.55" cy="1010.89" r="2.1" fill="#000"/>
<circle cx="496.25" cy="1099.39" r="2.1" fill="#000"/>
<circle cx="494.55" cy="1136.56" r="2.1" fill="#000"/>
<path d="M514.2 1134.79V1104.7M511.2 1104.7H517.2" stroke="#222" stroke-width="0.9" fill="none"/>
<circle cx="512.7" cy="1092.31" r="2.1" fill="#000"/>
<circle cx="515.4" cy="1105.59" r="2.1" fill="#000"/>
<circle cx="513.7" cy="1140.1" r="2.1" fill="#000"/>
<circle cx="516" cy="1145.41" r="2.1" fill="#000"/>
<path d="M302.9 998.5V1175.5H533.3" fill="none" stroke="#333" stroke-width="1"/>
<path d="M299.9 1175.5H302.9" stroke="#333" stroke-width="1"/>
<text transform="translate(297.1 1179.3) scale(0.88 1)" text-anchor="end" font-size="10.5" fill="#222" stroke="#222" stroke-width="0.15">0,0</text>
<path d="M301.4 1157.8H302.9" stroke="#333" stroke-width="1"/>
<path d="M299.9 1140.1H302.9" stroke="#333" stroke-width="1"/>
<text transform="translate(297.1 1143.9) scale(0.88 1)" text-anchor="end" font-size="10.5" fill="#222" stroke="#222" stroke-width="0.15">,2</text>
<path d="M301.4 1122.4H302.9" stroke="#333" stroke-width="1"/>
<path d="M299.9 1104.7H302.9" stroke="#333" stroke-width="1"/>
<text transform="translate(297.1 1108.5) scale(0.88 1)" text-anchor="end" font-size="10.5" fill="#222" stroke="#222" stroke-width="0.15">,4</text>
<path d="M301.4 1087H302.9" stroke="#333" stroke-width="1"/>
<path d="M299.9 1069.3H302.9" stroke="#333" stroke-width="1"/>
<text transform="translate(297.1 1073.1) scale(0.88 1)" text-anchor="end" font-size="10.5" fill="#222" stroke="#222" stroke-width="0.15">,6</text>
<path d="M301.4 1051.6H302.9" stroke="#333" stroke-width="1"/>
<path d="M299.9 1033.9H302.9" stroke="#333" stroke-width="1"/>
<text transform="translate(297.1 1037.7) scale(0.88 1)" text-anchor="end" font-size="10.5" fill="#222" stroke="#222" stroke-width="0.15">,8</text>
<path d="M301.4 1016.2H302.9" stroke="#333" stroke-width="1"/>
<path d="M299.9 998.5H302.9" stroke="#333" stroke-width="1"/>
<text transform="translate(297.1 1002.3) scale(0.88 1)" text-anchor="end" font-size="10.5" fill="#222" stroke="#222" stroke-width="0.15">1,0</text>
<text transform="translate(280.3 1093) rotate(-90)" text-anchor="middle" font-size="12.8" font-weight="bold">Flurescence, ΔF/F<tspan font-size="8.5" dy="2.5">0</tspan></text>
<text x="322.67" y="1070.2" font-size="11.8" textLength="58.55" lengthAdjust="spacingAndGlyphs" stroke="#000" stroke-width="0.35">Glutamate</text>
<text x="402.77" y="1070" font-size="11.8" textLength="34.77" lengthAdjust="spacingAndGlyphs" stroke="#000" stroke-width="0.35">GABA</text>
<text x="482.65" y="999.3" font-size="11.8" textLength="19.14" lengthAdjust="spacingAndGlyphs" stroke="#000" stroke-width="0.35">KCl</text>
<path d="M397.6 1119V1093.7H437.8V1146" fill="none" stroke="#444" stroke-width="0.9"/>
<path d="M400.4 1114V1105.4H418.4V1146" fill="none" stroke="#444" stroke-width="0.9"/>
<text x="417.5" y="1092" text-anchor="middle" font-size="8" fill="#555">*</text>
<text x="408.2" y="1103.5" text-anchor="middle" font-size="8" fill="#555">*</text>
<text transform="translate(328.9 1191.5) rotate(-37)" text-anchor="end" font-size="12" font-weight="bold">Control</text>
<text transform="translate(344.7 1194) rotate(-37)" text-anchor="end" font-size="12" font-weight="bold">C9-</text>
<text transform="translate(365.7 1194) rotate(-37)" text-anchor="end" font-size="12" font-weight="bold">C9+</text>
<text transform="translate(405.9 1191.5) rotate(-37)" text-anchor="end" font-size="12" font-weight="bold">Control</text>
<text transform="translate(421.6 1194) rotate(-37)" text-anchor="end" font-size="12" font-weight="bold">C9-</text>
<text transform="translate(442.6 1194) rotate(-37)" text-anchor="end" font-size="12" font-weight="bold">C9+</text>
<text transform="translate(482.4 1191.5) rotate(-37)" text-anchor="end" font-size="12" font-weight="bold">Control</text>
<text transform="translate(498.2 1194) rotate(-37)" text-anchor="end" font-size="12" font-weight="bold">C9-</text>
<text transform="translate(519.4 1194) rotate(-37)" text-anchor="end" font-size="12" font-weight="bold">C9+</text>
</svg></body></html>
